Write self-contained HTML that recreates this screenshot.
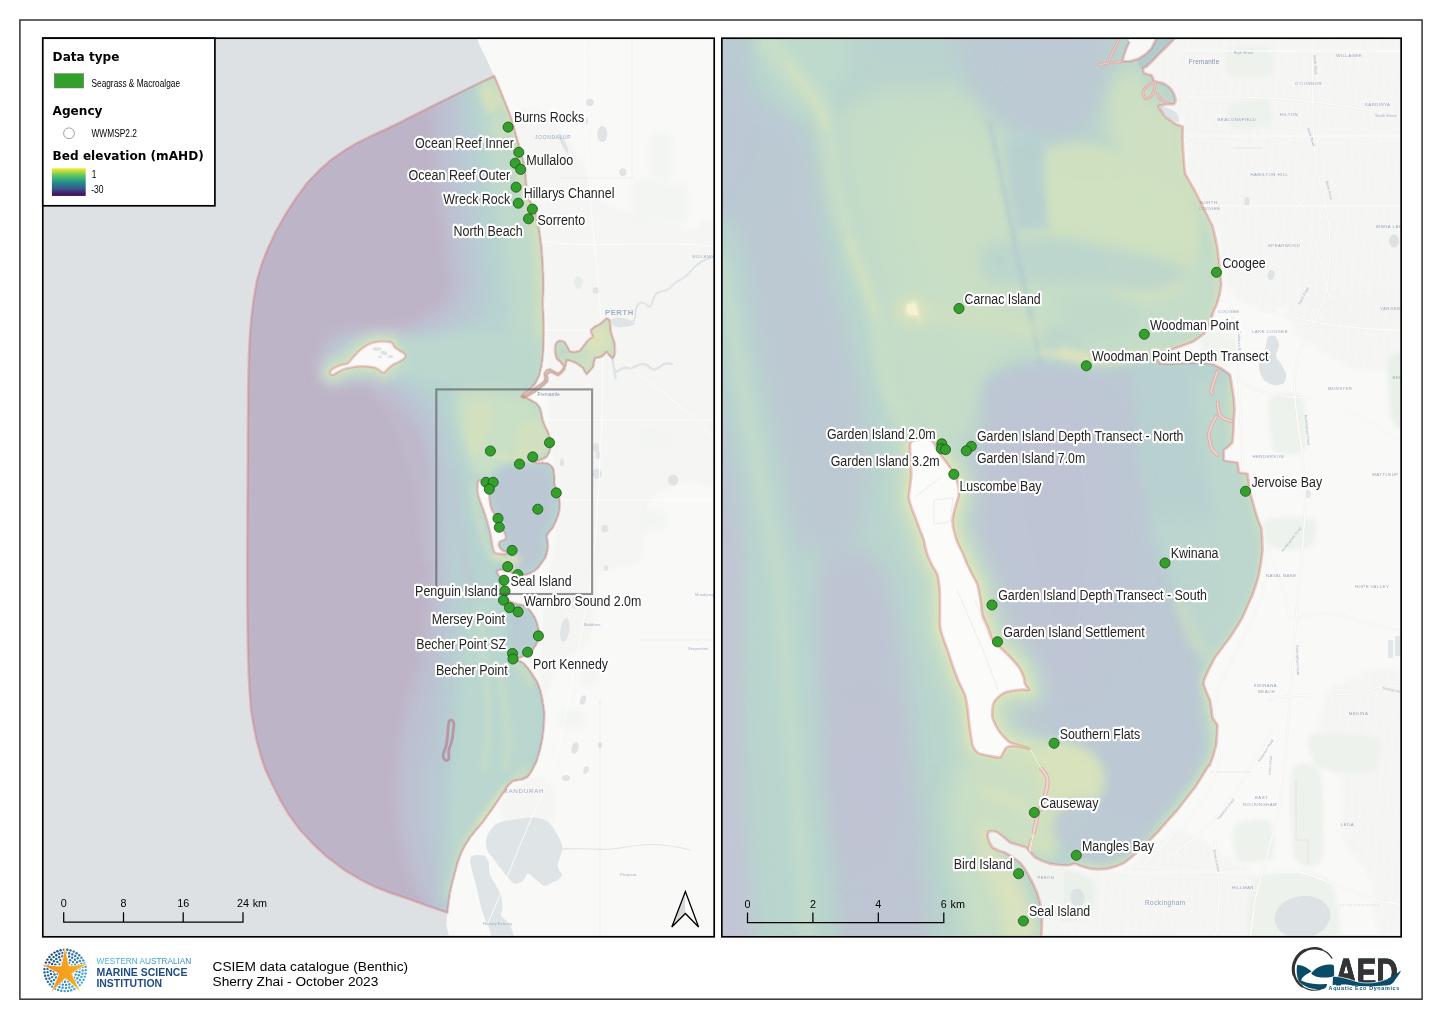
<!DOCTYPE html>
<html lang="en"><head><meta charset="utf-8"><title>CSIEM data catalogue (Benthic)</title>
<style>
html,body{margin:0;padding:0;background:#fff;overflow:hidden}
svg{display:block}
text{font-family:"Liberation Sans",sans-serif}
.lab{font-size:14px;fill:#242424;stroke:#fff;stroke-width:4.4px;stroke-linejoin:round;paint-order:stroke fill}
.dj{font-family:"DejaVu Sans",sans-serif;font-weight:bold}
.bm{fill:#8e9bb0;font-size:4.6px;letter-spacing:.35px}
.pt{fill:#33a02c;stroke:#1e4f1b;stroke-width:.8}
</style></head><body>
<svg width="1442" height="1020" viewBox="0 0 1442 1020" style="opacity:.999">
<defs>
<clipPath id="clipL"><rect x="43.6" y="39.1" width="669.8" height="896.7"/></clipPath>
<clipPath id="clipR"><rect x="722.7" y="39.1" width="677.6" height="896.7"/></clipPath>
<filter id="b2" filterUnits="userSpaceOnUse" x="0" y="0" width="1442" height="1020"><feGaussianBlur stdDeviation="2"/></filter>
<filter id="b3" filterUnits="userSpaceOnUse" x="0" y="0" width="1442" height="1020"><feGaussianBlur stdDeviation="3.5"/></filter>
<filter id="b6" filterUnits="userSpaceOnUse" x="0" y="0" width="1442" height="1020"><feGaussianBlur stdDeviation="6"/></filter>
<filter id="b10" filterUnits="userSpaceOnUse" x="0" y="0" width="1442" height="1020"><feGaussianBlur stdDeviation="10"/></filter>
<filter id="b16" filterUnits="userSpaceOnUse" x="0" y="0" width="1442" height="1020"><feGaussianBlur stdDeviation="16"/></filter>
<linearGradient id="vir" x1="0" y1="0" x2="0" y2="1">
<stop offset="0" stop-color="#fde725"/><stop offset=".25" stop-color="#5ec962"/><stop offset=".5" stop-color="#21918c"/><stop offset=".75" stop-color="#3b528b"/><stop offset="1" stop-color="#440154"/>
</linearGradient>
<linearGradient id="star" x1="0" y1="0" x2="1" y2="0"><stop offset="0" stop-color="#ee8a22"/><stop offset="1" stop-color="#fbb81a"/></linearGradient>
<linearGradient id="wa" x1="0" y1="0" x2="1" y2="0"><stop offset="0" stop-color="#41b6d6"/><stop offset="1" stop-color="#2f86c0"/></linearGradient>
</defs>
<rect x="0" y="0" width="1442" height="1020" fill="#fff"/>
<g clip-path="url(#clipL)">
<rect x="42" y="37" width="674" height="902" fill="#dde1e4"/>
<path d="M476.3,36 L480,46 L485,56 L489.5,66 L494.3,76 L498.5,86 L502.5,96 L507,107 L511.3,118.5 L514.5,130 L517.5,141 L521,152 L523.8,163.5 L525.5,175 L526.3,186 L528,194 L530,201 L533,208 L536.3,216 L538.5,226 L540,236 L541.5,248 L542.5,261 L543.2,275 L543.3,288.5 L542.8,305 L543.5,318 L543.8,330 L543.5,343 L543,355 L541.5,366 L539,376 L535,384 L529,390 L523,394.5 L521.5,396.5 L526,397.5 L531.6,400.6 L536,403 L539.8,407.5 L541.5,413 L542.6,419.8 L545,426 L548.1,432.2 L550,439 L550.8,445.9 L549.5,452 L546.7,456.9 L542,459.5 L537.1,461 L534.5,461.8 L537.5,463.2 L543,462.8 L548,463.4 L551.5,466 L553.6,469.2 L554.3,476 L554.3,483 L556,489 L557.7,494 L559.2,499 L559.8,503.6 L559.5,509 L558.4,514.6 L556,521 L553,527.5 L549.5,531.5 L546.7,535.7 L547.5,541 L548.1,546.7 L547,552.5 L545.3,557.7 L542,562.5 L538.5,567.3 L535,570.5 L531.6,572.8 L527.5,574.2 L523.4,574.8 L518,574.2 L512.4,572.8 L509,571.5 L505,570.5 L500,569.5 L496.6,571.4 L498,574.5 L500,576.9 L502,580 L502.8,585 L503.5,590 L505,595 L507,599 L511,602 L517,604 L522,605 L526.1,606.5 L530.5,611 L534.4,616.7 L537,623 L538.8,630.4 L539,637.5 L536.5,644 L532.5,650 L527,654.5 L520,657.5 L515,658.3 L511.5,658.8 L515,660.3 L520,661 L524,663.5 L527.5,667.5 L532.5,674.5 L537.5,682.5 L540.5,691 L542.5,700 L544.3,712 L544,725 L542.5,738 L540,750 L536.3,762 L531.5,771.5 L527.5,777 L522,779.5 L516,780.3 L512.5,781.3 L508.5,785 L505,790 L500,797.5 L495,805 L489,813.5 L482.5,822.5 L476,830 L470,837.5 L465.3,845 L461.3,852.5 L457.8,862 L455,872.5 L452.3,882.5 L450,892.5 L448.5,902.5 L447.5,912.5 L446.3,925 L448,932 L450,940 L720,940 L720,30 L476.3,30Z" fill="#f9f9f7"/>
<path d="M330,371.8 C330.3,370.9 331.8,369.7 333,368.8 C334.2,367.9 336,367.1 337.5,366.4 C339,365.7 340.3,365.3 342,364.8 C343.7,364.3 346,364.4 347.5,363.6 C349,362.8 349.5,361.4 351,359.8 C352.5,358.2 354.7,355.5 356.3,353.8 C357.9,352.1 359.1,351 360.5,349.8 C361.9,348.6 363.4,347.4 365,346.4 C366.6,345.4 368.3,344.5 370,343.8 C371.7,343.1 373,342.6 375,342.2 C377,341.8 379.5,341.4 382,341.4 C384.5,341.4 388.2,341.5 390,342 C391.8,342.5 392,343.3 392.8,344.2 C393.6,345.1 393.9,346.4 395,347.5 C396.1,348.6 397.9,349.6 399.5,350.7 C401.1,351.8 403.6,352.9 404.5,353.8 C405.4,354.7 405.3,355.4 405.2,356.2 C405.1,357 404.9,357.8 403.8,358.8 C402.7,359.8 400.4,361 398.5,362 C396.6,363 394.2,363.9 392.5,365 C390.8,366.1 389.4,367.5 388,368.8 C386.6,370.1 385.2,372.3 383.8,372.6 C382.4,372.9 381,371.2 379.5,370.4 C378,369.6 377,368.2 375,367.6 C373,367 370,366.8 367.5,366.6 C365,366.4 362.5,366.2 360,366.3 C357.5,366.4 355,366.8 352.5,367.2 C350,367.6 347.2,368.1 345,368.8 C342.8,369.5 340.9,370.6 339,371.6 C337.1,372.6 335.1,374.1 333.8,374.6 C332.5,375.1 331.6,374.9 331,374.4 C330.4,373.9 329.7,372.7 330,371.8Z" fill="#f9f9f7"/>
<path d="M478.7,480.9 C479.4,480.2 482.3,480.8 483.5,481.2 C484.7,481.6 488.3,483.5 489,484.4 C489.7,485.3 489.8,487.9 489.8,489 C489.8,490.1 489.3,492.7 489.3,494 C489.3,495.3 489.4,498.6 489.6,500 C489.8,501.4 490.3,505 490.6,506.3 C490.9,507.6 491.8,510 492.3,511 C492.8,512 493.9,513.4 494.5,514.6 C495.1,515.8 497,519.5 497.8,521 C498.6,522.5 500.7,526.2 501.4,527.5 C502.1,528.8 503.4,530.8 503.9,531.8 C504.4,532.8 505.3,534.9 505.5,535.7 C505.7,536.5 505.8,537.8 505.6,538.3 C505.4,538.8 504.4,539.6 503.8,539.9 C503.2,540.2 501.1,540.6 500.5,541 C499.9,541.4 499.2,542.4 499,543 C498.8,543.6 498.6,545.1 498.8,545.8 C499,546.5 500,548 500.5,548.6 C501,549.2 502.1,550.3 502.8,550.8 C503.5,551.3 506.7,552.5 506.9,552.9 C507.1,553.3 505.1,554.1 504.5,554.2 C503.9,554.3 502.2,553.8 501.4,553.7 C500.6,553.6 498.6,553.8 497.8,553.6 C497,553.4 495.1,553 494.5,552.2 C493.9,551.4 493.1,548.3 492.8,547 C492.5,545.7 492.1,542.7 491.8,541.2 C491.5,539.7 490.8,535.6 490.5,534 C490.2,532.4 489.4,529.1 489,527.5 C488.6,525.9 487.5,522.1 487,520.5 C486.5,518.9 485.3,514.9 484.9,513.7 C484.5,512.5 483.9,510.9 483.6,510 C483.3,509.1 482.6,507.5 482.2,506.3 C481.8,505.1 480.3,501.4 479.8,500 C479.3,498.6 478.3,495.5 478,494 C477.7,492.5 477.5,488.5 477.6,487 C477.7,485.5 478,481.6 478.7,480.9Z" fill="#f9f9f7"/>
<pattern id="gridL" width="5" height="4.4" patternUnits="userSpaceOnUse" patternTransform="rotate(-8)"><rect width="5" height="4.4" fill="#f2f2f0"/><path d="M0,0.4 H5 M0.4,0 V4.4" stroke="#fafaf9" stroke-width=".9"/></pattern>
<path d="M512,120 C513.3,107.3 531.6,106 540,110 C548.4,114 567,138 575,150 C583,162 591.3,191.3 600,200 C608.7,208.7 628,211 640,215 C652,219 679.9,227.7 690,230 C700.1,232.3 712.5,200 716,232 C719.5,264 719.5,436.9 716,470 C712.5,503.1 698.8,476 690,480 C681.2,484 656.7,489.3 650,500 C643.3,510.7 646.7,550 640,560 C633.3,570 606.7,564.3 600,575 C593.3,585.7 595.3,628.7 590,640 C584.7,651.3 566,652 560,660 C554,668 547.7,702.7 545,700 C542.3,697.3 538,666.7 540,640 C542,613.3 558.7,526.7 560,500 C561.3,473.3 552,466.7 550,440 C548,413.3 547.7,331.3 545,300 C542.3,268.7 534.4,229 530,205 C525.6,181 510.7,132.7 512,120Z" fill="url(#gridL)" filter="url(#b2)"/>
<path d="M525,782 C529.7,780.1 540.9,775.6 545,778 C549.1,780.4 555.6,793.1 556,800 C556.4,806.9 552.8,824.7 548,830 C543.2,835.3 526.4,842 520,840 C513.6,838 501.3,821.4 500,815 C498.7,808.6 506.7,796.4 510,792 C513.3,787.6 520.3,783.9 525,782Z" fill="url(#gridL)" filter="url(#b2)"/>
<rect x="651" y="133" width="20" height="45" rx="6" fill="#f2f5f1" filter="url(#b3)"/>
<rect x="633" y="180" width="35" height="40" rx="6" fill="#f2f5f1" filter="url(#b3)"/>
<rect x="660" y="184" width="26" height="40" rx="6" fill="#f2f5f1" filter="url(#b3)"/>
<rect x="641" y="430" width="17" height="15" rx="6" fill="#f2f5f1" filter="url(#b3)"/>
<rect x="661" y="437" width="10" height="10" rx="6" fill="#f2f5f1" filter="url(#b3)"/>
<rect x="643" y="510" width="23" height="20" rx="6" fill="#f2f5f1" filter="url(#b3)"/>
<rect x="560" y="709" width="23" height="19" rx="6" fill="#f2f5f1" filter="url(#b3)"/>
<rect x="580" y="671" width="18" height="14" rx="6" fill="#f2f5f1" filter="url(#b3)"/>
<rect x="548" y="598" width="12" height="40" rx="6" fill="#f2f5f1" filter="url(#b3)"/>
<ellipse cx="589.8" cy="102.3" rx="4" ry="3.6" fill="#dfe4e7"/>
<ellipse cx="602.3" cy="134" rx="5" ry="8" fill="#dfe4e7"/>
<ellipse cx="622.8" cy="172.3" rx="3.5" ry="4" fill="#dfe4e7"/>
<ellipse cx="563.5" cy="143.5" rx="2.2" ry="11" fill="#dfe4e7" transform="rotate(-25 563.5 143.5)"/>
<ellipse cx="585.5" cy="121" rx="2.5" ry="3.5" fill="#dfe4e7"/>
<ellipse cx="578.3" cy="282.5" rx="4.2" ry="6.5" fill="#e6ede8"/>
<ellipse cx="596" cy="290.5" rx="3.5" ry="3.2" fill="#dfe4e7"/>
<ellipse cx="673" cy="480" rx="5.2" ry="5.6" fill="#dfe4e7"/>
<ellipse cx="597.3" cy="473.8" rx="4.6" ry="5.2" fill="#dfe4e7"/>
<ellipse cx="604.8" cy="528.8" rx="3.6" ry="3.8" fill="#dfe4e7"/>
<ellipse cx="564.8" cy="630" rx="4.5" ry="12" fill="#dfe4e7" transform="rotate(8 564.8 630)"/>
<ellipse cx="596" cy="447.5" rx="3" ry="4.5" fill="#dfe4e7"/>
<ellipse cx="562" cy="462.5" rx="2" ry="4" fill="#dfe4e7"/>
<ellipse cx="598" cy="455" rx="2.5" ry="4" fill="#dfe4e7"/>
<ellipse cx="606" cy="568" rx="2" ry="3" fill="#dfe4e7"/>
<ellipse cx="575" cy="603" rx="3.5" ry="6" fill="#dfe4e7"/>
<ellipse cx="553" cy="586" rx="2.8" ry="2.8" fill="#dfe4e7"/>
<ellipse cx="583" cy="700" rx="3" ry="5" fill="#dfe4e7" transform="rotate(20 583 700)"/>
<ellipse cx="575" cy="748" rx="3.5" ry="6" fill="#dfe4e7" transform="rotate(15 575 748)"/>
<ellipse cx="586" cy="770" rx="2.5" ry="4" fill="#dfe4e7" transform="rotate(20 586 770)"/>
<ellipse cx="566" cy="778" rx="4" ry="3" fill="#dfe4e7"/>
<ellipse cx="600" cy="745" rx="2" ry="3" fill="#dfe4e7"/>
<path d="M610.5,320 L616,317.5 L624,318 L632,321 L635,324.5 L628,326.5 L620,327.5 L613,326 Z" fill="#dfe4e7"/>
<path d="M633,322 C637,318 634,311 637,306 S644,302 648,306 S652,298 656,294 S668,292 672,286 S684,280 690,272 S700,262 716,255" fill="none" stroke="#dfe4e7" stroke-width="2"/>
<path d="M612.5,358 C613,364 614.5,370 615.5,378 M615,372 C620,371 623,366 628,368 S636,364 643,364 S650,372 656,369 S664,362 672,364" fill="none" stroke="#dfe4e7" stroke-width="2.6" stroke-linecap="round"/>
<path d="M470,860 C470.1,861.8 471.8,869.1 472.5,872 C473.2,874.9 475.3,882.2 476,885 C476.7,887.8 477.9,893.4 478.5,896 C479.1,898.6 480.2,904.3 481,907 C481.8,909.7 483.9,916.3 485,919 C486.1,921.7 488.9,927.1 490,930 C491.1,932.9 490.9,942.4 494,944 C497.1,945.6 514.7,945 517,944 C519.3,943 514.5,937.2 513.7,935 C512.9,932.8 511,926.8 510,925 C509,923.2 506.1,920.7 505,919.5 C503.9,918.3 501.3,916.1 501,915 C500.7,913.9 502,911.2 502.2,910 C502.4,908.8 502.5,906.4 502.4,905 C502.3,903.6 501.8,899.5 501.5,898 C501.2,896.5 500.8,894.1 500,892.5 C499.2,890.9 496.2,886 495,884 C493.8,882 490.7,876.9 490,875 C489.3,873.1 489.2,869.5 489,868 C488.8,866.5 489,863.2 488.7,862 C488.4,860.8 487,858.8 486.5,858 C486,857.2 485.2,855.9 484,855.5 C482.8,855.1 477.5,854.9 476,855 C474.5,855.1 472.2,855.9 471.5,856.5 C470.8,857.1 469.9,858.2 470,860Z" fill="#dfe4e7"/>
<path d="M488.8,832.5 C489.8,831 493.3,826.3 495,825 C496.7,823.7 501,822.1 503,821.5 C505,820.9 510.3,820.4 512.5,820 C514.7,819.6 519.7,818.6 522,818.3 C524.3,818 530.3,817.5 532.5,817.5 C534.7,817.5 539.2,818.1 541,818.5 C542.8,818.9 546.1,820.2 547.5,821.3 C548.9,822.3 551.8,825.9 553,827.5 C554.2,829.1 556.6,833.4 557.5,835 C558.4,836.6 559.9,839.5 560.5,841 C561.1,842.5 562.5,845.8 562.5,847.5 C562.5,849.2 561.1,854 560.5,856 C559.9,858 557.7,863.4 557.5,865 C557.3,866.6 558.5,868.8 559,870 C559.5,871.2 562.1,873.8 562,875 C561.9,876.2 559.1,879.1 558,880 C556.9,880.9 553.6,881.9 552.4,882.5 C551.2,883.1 549,884.6 548,885 C547,885.4 544.8,886 543.6,885.6 C542.4,885.2 539.2,882.4 538,881.5 C536.8,880.6 534.5,878.3 533.6,877.5 C532.7,876.7 530.7,874.9 530,874.5 C529.3,874.1 527.9,873.5 527.4,873.7 C526.9,873.9 525.8,875.4 525.5,876 C525.2,876.6 525.5,877.9 524.9,878.7 C524.3,879.5 521.2,881.9 520,882.5 C518.8,883.1 515.9,883.9 514.9,883.7 C513.9,883.5 512.4,882.3 511.2,881.2 C510,880.1 506.3,875.6 505,874 C503.7,872.4 501,868.8 500,867.5 C499,866.2 497.3,864.1 496.5,863 C495.7,861.9 494,859.3 493,858 C492,856.7 488.8,853.5 488,852 C487.2,850.5 486.2,846.6 486,845 C485.8,843.4 486.2,839.5 486.5,838 C486.8,836.5 487.8,834 488.8,832.5Z" fill="#dfe4e7"/>
<path d="M556,850 C580,846 600,852 620,848 S660,842 690,850" fill="none" stroke="#dfe4e7" stroke-width="1.2"/>
<path d="M585,36 C582,100 588,180 596,260 S604,380 600,460 S596,560 580,640 S560,760 540,800 S500,900 480,940" fill="none" stroke="#fdfdfc" stroke-width=".9"/>
<path d="M540,240 C580,250 640,240 716,246 M600,340 C640,380 680,400 716,440 M545,420 H716 M560,500 H716 M545,330 H600" fill="none" stroke="#fdfdfc" stroke-width=".9"/>
<path d="M632,36 V178 H560 M640,640 H716 M600,700 V940" fill="none" stroke="#e8b9b9" stroke-width=".6" stroke-dasharray="1.2 1.6" opacity=".7"/>
<text x="605" y="315" font-size="7.6" letter-spacing="0.6" fill="#a4afc2" font-weight="bold">PERTH</text>
<text x="502.5" y="792.5" font-size="6.2" letter-spacing="0.75" fill="#a3adc0" >MANDURAH</text>
<text x="535" y="139" font-size="4.9" letter-spacing="0.7" fill="#9aabc4" >JOONDALUP</text>
<text x="537.5" y="395.5" font-size="4.6" letter-spacing="0.2" fill="#7f8ea6" >Fremantle</text>
<text x="584" y="626" font-size="4.4" letter-spacing="0.2" fill="#9aabc4" >Baldivis</text>
<text x="695" y="596" font-size="4" letter-spacing="0.1" fill="#a5b3c8" >Mundijong</text>
<text x="688" y="650" font-size="4" letter-spacing="0.1" fill="#a5b3c8" >Serpentine</text>
<text x="620" y="876" font-size="4.4" letter-spacing="0.2" fill="#9fb0c6" >Pinjarra</text>
<text x="692" y="258" font-size="4.2" letter-spacing="0.4" fill="#a5b3c8" >MIDLAND</text>
<text x="483" y="925" font-size="4.1" letter-spacing="0.1" fill="#9fb0c6" >Harvey Estuary</text>
<clipPath id="cpB"><path d="M494.3,76 L470,87.6 L445,99.8 L420,112.2 L395,124.8 L382,131 L370,136.5 L357,143 L345,150 L332,159 L320,169.5 L307,183 L296,198 L285,215 L276,231 L268,248 L262,263 L257,280 L253.5,300 L251.3,318 L249.8,336 L248.9,355 L248.3,380 L248,405 L247.8,430 L247.8,455 L247.6,480 L247.4,505 L247.3,534 L247.2,560 L247.2,585 L247.3,610 L247.6,635 L248,655 L248.7,675 L249.6,692 L251,710 L253.3,724 L256.4,740 L260.5,755 L265.5,770 L272.5,785 L280,800 L289,815 L300,830 L313,844 L327,857 L345,870.5 L360,879.5 L375,887 L392,893.5 L410,899.5 L428,906 L447.5,912.5 L448.5,902.5 L450,892.5 L452.3,882.5 L455,872.5 L457.8,862 L461.3,852.5 L465.3,845 L470,837.5 L476,830 L482.5,822.5 L489,813.5 L495,805 L500,797.5 L505,790 L508.5,785 L512.5,781.3 L516,780.3 L522,779.5 L527.5,777 L531.5,771.5 L536.3,762 L540,750 L542.5,738 L544,725 L544.3,712 L542.5,700 L540.5,691 L537.5,682.5 L532.5,674.5 L527.5,667.5 L524,663.5 L520,661 L515,660.3 L511.5,658.8 L515,658.3 L520,657.5 L527,654.5 L532.5,650 L536.5,644 L539,637.5 L538.8,630.4 L537,623 L534.4,616.7 L530.5,611 L526.1,606.5 L522,605 L517,604 L511,602 L507,599 L505,595 L503.5,590 L502.8,585 L502,580 L500,576.9 L498,574.5 L496.6,571.4 L500,569.5 L505,570.5 L509,571.5 L512.4,572.8 L518,574.2 L523.4,574.8 L527.5,574.2 L531.6,572.8 L535,570.5 L538.5,567.3 L542,562.5 L545.3,557.7 L547,552.5 L548.1,546.7 L547.5,541 L546.7,535.7 L549.5,531.5 L553,527.5 L556,521 L558.4,514.6 L559.5,509 L559.8,503.6 L559.2,499 L557.7,494 L556,489 L554.3,483 L554.3,476 L553.6,469.2 L551.5,466 L548,463.4 L543,462.8 L537.5,463.2 L534.5,461.8 L537.1,461 L542,459.5 L546.7,456.9 L549.5,452 L550.8,445.9 L550,439 L548.1,432.2 L545,426 L542.6,419.8 L541.5,413 L539.8,407.5 L536,403 L531.6,400.6 L526,397.5 L521.5,396.5 L523,394.5 L529,390 L535,384 L539,376 L541.5,366 L543,355 L543.5,343 L543.8,330 L543.5,318 L542.8,305 L543.3,288.5 L543.2,275 L542.5,261 L541.5,248 L540,236 L538.5,226 L536.3,216 L533,208 L530,201 L528,194 L526.3,186 L525.5,175 L523.8,163.5 L521,152 L517.5,141 L514.5,130 L511.3,118.5 L507,107 L502.5,96 L498.5,86Z"/><path d="M522,396.5 L528,393.5 L533,389.5 L536.7,386.7 L541,383.8 L544.5,381 L545,377.5 L544.2,373.8 L546.5,370.3 L550,369.2 L554,371.5 L558.3,373.3 L561.5,371 L564.2,366.7 L560.5,362 L556.5,358.3 L555,352 L555,346.7 L556.5,342.5 L559.2,340.8 L562.5,340.9 L565,342.5 L567.5,347 L570,351.7 L575,352 L580,350.8 L583.5,346 L586.7,341.7 L590,338.7 L593.3,336.7 L591.3,333 L590.8,330 L595,326.5 L600,324.2 L603.5,321 L606.7,318.3 L609,319.3 L610,321.7 L610.3,327 L610.8,331.7 L612.5,337 L614.2,341.7 L615,347.5 L615,353.3 L614,356.5 L612.5,358.3 L609.5,355.5 L606.7,351.7 L604,354.5 L601.7,356.7 L598,357.6 L595,358.3 L593.8,362.5 L593.3,366.7 L590,370.5 L586.7,374.2 L584.6,371.5 L583.3,368.3 L579,365 L575,362.5 L570.5,360.8 L566.7,360 L565.7,365 L564.2,370 L561.5,373 L558.3,375.5 L554.5,373.8 L550.8,371.9 L548.3,373.2 L546.9,375.5 L547.7,378.5 L547.5,381.3 L544,384.8 L540,388.3 L534,392.5 L528.3,395.8 L524,398Z"/></clipPath>
<g clip-path="url(#cpB)">
<rect x="240" y="70" width="390" height="850" fill="#beb4c7"/>
<path d="M436,60 C405.9,65.3 434,88 434,100 C434,112 435.1,136.7 436,150 C436.9,163.3 439.5,186.7 441,200 C442.5,213.3 445.5,238.7 447,250 C448.5,261.3 452.5,277.7 452,285 C451.5,292.3 447.3,300.3 443,305 C438.7,309.7 426.4,316.9 420,320 C413.6,323.1 401.7,326.7 395,328 C388.3,329.3 376.7,329.7 370,330 C363.3,330.3 350.9,328.3 345,330 C339.1,331.7 329.6,338.6 326,343 C322.4,347.4 318.3,357.8 318,363 C317.7,368.2 320.4,378.9 324,382 C327.6,385.1 339.5,385.5 345,386 C350.5,386.5 360.6,385.2 365,386 C369.4,386.8 374.4,389.9 378,392 C381.6,394.1 388,398.3 392,402 C396,405.7 404.3,414.9 408,420 C411.7,425.1 417.6,433.6 420,440 C422.4,446.4 424.8,458 426,468 C427.2,478 428.3,502.5 429,515 C429.7,527.5 430.6,551.6 431,562 C431.4,572.4 432.4,585.3 432,593 C431.6,600.7 429.1,612.4 428,620 C426.9,627.6 425.6,642 424,650 C422.4,658 417.9,673.3 416,680 C414.1,686.7 411.7,692.4 410,700 C408.3,707.6 404.6,726.7 403,737 C401.4,747.3 398.7,767.3 398,777 C397.3,786.7 397.3,801.6 398,810 C398.7,818.4 401.1,831.3 403,840 C404.9,848.7 409.1,866.7 412,875 C414.9,883.3 421.8,895.3 425,902 C428.2,908.7 404.7,921.9 436,925 C467.3,928.1 630.1,1040.3 660,925 C689.9,809.7 689.9,175.3 660,60 C630.1,-55.3 466.1,54.7 436,60Z" fill="#bdc1d2" opacity="1" filter="url(#b6)"/>
<path d="M456,60 C428.5,65.3 454,88 454,100 C454,112 455.2,136.7 456,150 C456.8,163.3 458.7,186.7 460,200 C461.3,213.3 464.7,238.7 466,250 C467.3,261.3 471.1,276.7 470,285 C468.9,293.3 463.3,306 458,312 C452.7,318 437.7,326.5 430,330 C422.3,333.5 407.7,336.5 400,338 C392.3,339.5 378.9,340.7 372,341 C365.1,341.3 353.1,338.8 348,340 C342.9,341.2 336.7,346.8 334,350 C331.3,353.2 328,360.7 328,364 C328,367.3 330.8,373.1 334,375 C337.2,376.9 346.7,377.7 352,378 C357.3,378.3 368.7,376.2 374,377 C379.3,377.8 387.5,381.5 392,384 C396.5,386.5 403.7,392 408,396 C412.3,400 420.5,408.7 424,414 C427.5,419.3 432,429.2 434,436 C436,442.8 438.1,454.5 439,465 C439.9,475.5 440.6,502.1 441,515 C441.4,527.9 441.6,551.6 442,562 C442.4,572.4 443.9,585.3 444,593 C444.1,600.7 443.5,612.4 443,620 C442.5,627.6 441.2,642 440,650 C438.8,658 435.3,673.3 434,680 C432.7,686.7 431.1,692.4 430,700 C428.9,707.6 427.1,726.7 426,737 C424.9,747.3 422.4,767.3 422,777 C421.6,786.7 422.2,801.6 423,810 C423.8,818.4 426.3,831.3 428,840 C429.7,848.7 433.9,866.7 436,875 C438.1,883.3 441.9,895.3 444,902 C446.1,908.7 423.2,921.9 452,925 C480.8,928.1 632.3,1040.3 660,925 C687.7,809.7 687.2,175.3 660,60 C632.8,-55.3 483.5,54.7 456,60Z" fill="#b9cad3" opacity="1" filter="url(#b6)"/>
<path d="M470,60 C444.4,65.3 467.7,88 468,100 C468.3,112 470.7,136.7 472,150 C473.3,163.3 476.4,186.7 478,200 C479.6,213.3 482.5,238 484,250 C485.5,262 489.8,280.7 489,290 C488.2,299.3 483.2,313.6 478,320 C472.8,326.4 458.8,334.5 450,338 C441.2,341.5 420.5,344.7 412,346 C403.5,347.3 392.7,347.7 386,348 C379.3,348.3 367.6,347.1 362,348 C356.4,348.9 346.9,352.9 344,355 C341.1,357.1 339.5,362.1 340,364 C340.5,365.9 343.7,368.5 348,369 C352.3,369.5 365.6,367.5 372,368 C378.4,368.5 390.9,370.9 396,373 C401.1,375.1 406.3,381.5 410,384 C413.7,386.5 420.3,388.8 424,392 C427.7,395.2 435.1,402.9 438,408 C440.9,413.1 444.4,423.1 446,430 C447.6,436.9 449.2,448.7 450,460 C450.8,471.3 451.6,501.4 452,515 C452.4,528.6 452.6,551.6 453,562 C453.4,572.4 454.6,585.3 455,593 C455.4,600.7 455.9,612.4 456,620 C456.1,627.6 456.3,642 456,650 C455.7,658 454.4,673.3 454,680 C453.6,686.7 453.4,692.4 453,700 C452.6,707.6 451.5,726.7 451,737 C450.5,747.3 449.3,767.3 449,777 C448.7,786.7 448.6,801.6 449,810 C449.4,818.4 451.2,831.3 452,840 C452.8,848.7 454.5,866.7 455,875 C455.5,883.3 455.6,895.3 456,902 C456.4,908.7 430.8,921.9 458,925 C485.2,928.1 633.1,1040.3 660,925 C686.9,809.7 685.3,175.3 660,60 C634.7,-55.3 495.6,54.7 470,60Z" fill="#b7d3d0" opacity="1" filter="url(#b6)"/>
<path d="M480,60 C456.3,65.3 480.9,88 482,100 C483.1,112 486.1,136.7 488,150 C489.9,163.3 493.9,186.7 496,200 C498.1,213.3 502.1,236.7 504,250 C505.9,263.3 509.5,288 510,300 C510.5,312 509.3,330.7 508,340 C506.7,349.3 501.9,362.7 500,370 C498.1,377.3 472.7,391.7 494,395 C515.3,398.3 637.9,439.7 660,395 C682.1,350.3 684,104.7 660,60 C636,15.3 503.7,54.7 480,60Z" fill="#bfdacb" opacity="1" filter="url(#b6)"/>
<path d="M497,82 C498.1,85.1 503,98.6 505,105 C507,111.4 510.3,123.3 512,130 C513.7,136.7 516.7,147.7 518,155 C519.3,162.3 520.4,177.4 522,185 C523.6,192.6 528.1,204.7 530,212 C531.9,219.3 534.8,232.3 536,240 C537.2,247.7 538.5,262 539,270 C539.5,278 539.9,290.7 540,300 C540.1,309.3 540.3,330.7 540,340 C539.7,349.3 538.3,366 538,370" fill="none" stroke="#d3dfbd" stroke-width="9" stroke-linecap="round" stroke-linejoin="round" opacity="0.9" filter="url(#b3)"/>
<ellipse cx="490" cy="98" rx="9" ry="16" fill="#d6e0ba" opacity="0.9" filter="url(#b3)" transform="rotate(-20 490 98)"/>
<ellipse cx="500" cy="130" rx="6" ry="12" fill="#cfdfc2" opacity="0.8" filter="url(#b3)" transform="rotate(-15 500 130)"/>
<path d="M330,371.8 C330.3,370.9 331.8,369.7 333,368.8 C334.2,367.9 336,367.1 337.5,366.4 C339,365.7 340.3,365.3 342,364.8 C343.7,364.3 346,364.4 347.5,363.6 C349,362.8 349.5,361.4 351,359.8 C352.5,358.2 354.7,355.5 356.3,353.8 C357.9,352.1 359.1,351 360.5,349.8 C361.9,348.6 363.4,347.4 365,346.4 C366.6,345.4 368.3,344.5 370,343.8 C371.7,343.1 373,342.6 375,342.2 C377,341.8 379.5,341.4 382,341.4 C384.5,341.4 388.2,341.5 390,342 C391.8,342.5 392,343.3 392.8,344.2 C393.6,345.1 393.9,346.4 395,347.5 C396.1,348.6 397.9,349.6 399.5,350.7 C401.1,351.8 403.6,352.9 404.5,353.8 C405.4,354.7 405.3,355.4 405.2,356.2 C405.1,357 404.9,357.8 403.8,358.8 C402.7,359.8 400.4,361 398.5,362 C396.6,363 394.2,363.9 392.5,365 C390.8,366.1 389.4,367.5 388,368.8 C386.6,370.1 385.2,372.3 383.8,372.6 C382.4,372.9 381,371.2 379.5,370.4 C378,369.6 377,368.2 375,367.6 C373,367 370,366.8 367.5,366.6 C365,366.4 362.5,366.2 360,366.3 C357.5,366.4 355,366.8 352.5,367.2 C350,367.6 347.2,368.1 345,368.8 C342.8,369.5 340.9,370.6 339,371.6 C337.1,372.6 335.1,374.1 333.8,374.6 C332.5,375.1 331.6,374.9 331,374.4 C330.4,373.9 329.7,372.7 330,371.8Z" fill="#cfe0c4" stroke="#cbdfc6" stroke-width="19" stroke-linejoin="round" filter="url(#b6)" opacity=".95"/>
<path d="M330,371.8 C330.3,370.9 331.8,369.7 333,368.8 C334.2,367.9 336,367.1 337.5,366.4 C339,365.7 340.3,365.3 342,364.8 C343.7,364.3 346,364.4 347.5,363.6 C349,362.8 349.5,361.4 351,359.8 C352.5,358.2 354.7,355.5 356.3,353.8 C357.9,352.1 359.1,351 360.5,349.8 C361.9,348.6 363.4,347.4 365,346.4 C366.6,345.4 368.3,344.5 370,343.8 C371.7,343.1 373,342.6 375,342.2 C377,341.8 379.5,341.4 382,341.4 C384.5,341.4 388.2,341.5 390,342 C391.8,342.5 392,343.3 392.8,344.2 C393.6,345.1 393.9,346.4 395,347.5 C396.1,348.6 397.9,349.6 399.5,350.7 C401.1,351.8 403.6,352.9 404.5,353.8 C405.4,354.7 405.3,355.4 405.2,356.2 C405.1,357 404.9,357.8 403.8,358.8 C402.7,359.8 400.4,361 398.5,362 C396.6,363 394.2,363.9 392.5,365 C390.8,366.1 389.4,367.5 388,368.8 C386.6,370.1 385.2,372.3 383.8,372.6 C382.4,372.9 381,371.2 379.5,370.4 C378,369.6 377,368.2 375,367.6 C373,367 370,366.8 367.5,366.6 C365,366.4 362.5,366.2 360,366.3 C357.5,366.4 355,366.8 352.5,367.2 C350,367.6 347.2,368.1 345,368.8 C342.8,369.5 340.9,370.6 339,371.6 C337.1,372.6 335.1,374.1 333.8,374.6 C332.5,375.1 331.6,374.9 331,374.4 C330.4,373.9 329.7,372.7 330,371.8Z" fill="#e1e4bf" stroke="#dde3bf" stroke-width="4.5" stroke-linejoin="round" filter="url(#b2)" opacity=".75"/>
<path d="M375,384 C377.3,387.5 387.3,401.2 392,410 C396.7,418.8 406,438 410,450 C414,462 419.6,485.3 422,500 C424.4,514.7 427.2,552 428,560" fill="none" stroke="#c3c2d4" stroke-width="6" stroke-linecap="round" stroke-linejoin="round" opacity="0.7" filter="url(#b6)"/>
<path d="M405,340 C410.1,335.6 430,336.3 440,335 C450,333.7 469.3,330 480,330 C490.7,330 511.3,333 520,335 C528.7,337 541.7,337 545,345 C548.3,353 548.3,388.7 545,395 C541.7,401.3 527.3,392.9 520,392 C512.7,391.1 499.3,389.1 490,388 C480.7,386.9 459.3,385.3 450,384 C440.7,382.7 426.4,380.1 420,378 C413.6,375.9 404,373.1 402,368 C400,362.9 399.9,344.4 405,340Z" fill="#bcd8ce" opacity="0.9" filter="url(#b6)"/>
<path d="M458,392 C461.2,388.4 473.7,388 480,388 C486.3,388 498.6,390.7 505,392 C511.4,393.3 523.3,395.6 528,398 C532.7,400.4 537.6,405.7 540,410 C542.4,414.3 544.9,424.7 546,430 C547.1,435.3 549.5,446 548,450 C546.5,454 539.4,458.4 535,460 C530.6,461.6 519.7,460.9 515,462 C510.3,463.1 503.6,466.1 500,468 C496.4,469.9 490.9,474.7 488,476 C485.1,477.3 480.4,479.5 478,478 C475.6,476.5 472.1,470.1 470,465 C467.9,459.9 463.9,446.7 462,440 C460.1,433.3 456.5,421.4 456,415 C455.5,408.6 454.8,395.6 458,392Z" fill="#c9dfc6" opacity="1" filter="url(#b6)"/>
<path d="M468,405 C469.9,401 477.1,400.1 480,400 C482.9,399.9 488.4,401.3 490,404 C491.6,406.7 492.5,415.2 492,420 C491.5,424.8 487.9,435.2 486,440 C484.1,444.8 480.1,454.7 478,456 C475.9,457.3 471.6,453.5 470,450 C468.4,446.5 466.3,436 466,430 C465.7,424 466.1,409 468,405Z" fill="#d6e1bd" opacity="0.8" filter="url(#b3)"/>
<path d="M520,425 C523.2,422.3 536.3,418.7 540,420 C543.7,421.3 546.9,430.7 548,435 C549.1,439.3 550.4,448.9 548,452 C545.6,455.1 534.5,457.5 530,458 C525.5,458.5 515.9,458.4 514,456 C512.1,453.6 515.2,444.1 516,440 C516.8,435.9 516.8,427.7 520,425Z" fill="#d4e1be" opacity="0.85" filter="url(#b3)"/>
<path d="M534,461 C532.4,460.7 525.5,459.4 522,459 C518.5,458.6 511.5,458.4 508,458 C504.5,457.6 497.6,456.3 496,456" fill="none" stroke="#dee3bd" stroke-width="3.5" stroke-linecap="round" stroke-linejoin="round" opacity="0.9" filter="url(#b2)"/>
<path d="M500,470 C502.9,468.1 511,466.5 515,466 C519,465.5 526,465.7 530,466 C534,466.3 542.1,466.1 545,468 C547.9,469.9 550.8,475.7 552,480 C553.2,484.3 554.3,494.7 554,500 C553.7,505.3 551.5,515.2 550,520 C548.5,524.8 543.9,531.7 543,536 C542.1,540.3 543.9,548.3 543,552 C542.1,555.7 538.4,561.6 536,564 C533.6,566.4 527.9,569.5 525,570 C522.1,570.5 516.3,569.9 514,568 C511.7,566.1 508.8,559.7 508,556 C507.2,552.3 508.5,543.7 508,540 C507.5,536.3 505.5,531.5 504,528 C502.5,524.5 498.5,518 497,514 C495.5,510 493.5,502.5 493,498 C492.5,493.5 492.1,483.7 493,480 C493.9,476.3 497.1,471.9 500,470Z" fill="#bbc8d3" opacity="1" filter="url(#b3)"/>
<path d="M474,485 C474.3,487.7 474.9,499.3 476,505 C477.1,510.7 480.4,522.3 482,528 C483.6,533.7 486.4,543.7 488,548 C489.6,552.3 493.2,558.4 494,560" fill="none" stroke="#cbdfc6" stroke-width="7" stroke-linecap="round" stroke-linejoin="round" opacity="0.9" filter="url(#b3)"/>
<path d="M496,556 C497.3,556.5 504.1,558.4 506,560 C507.9,561.6 509.5,566.9 510,568" fill="none" stroke="#dbe3bd" stroke-width="6" stroke-linecap="round" stroke-linejoin="round" opacity="0.9" filter="url(#b2)"/>
<ellipse cx="513" cy="560" rx="7" ry="8" fill="#d8e2bd" opacity="0.9" filter="url(#b3)"/>
<path d="M452,470 C452.4,474 453.9,492 455,500 C456.1,508 458.7,522 460,530 C461.3,538 463.7,552 465,560 C466.3,568 468.8,582 470,590 C471.2,598 473.5,616 474,620" fill="none" stroke="#bcc6d3" stroke-width="9" stroke-linecap="round" stroke-linejoin="round" opacity="0.8" filter="url(#b3)"/>
<path d="M512,610 C514.1,608.3 521.3,610.4 524,612 C526.7,613.6 530.7,618.8 532,622 C533.3,625.2 534.5,632.8 534,636 C533.5,639.2 530.1,644.1 528,646 C525.9,647.9 520.4,650.8 518,650 C515.6,649.2 511.3,643.3 510,640 C508.7,636.7 507.7,629 508,625 C508.3,621 509.9,611.7 512,610Z" fill="#bacbd3" opacity="0.95" filter="url(#b3)"/>
<path d="M470,600 C473.5,592.8 486,596 490,596 C494,596 498,596.8 500,600 C502,603.2 504.3,613.3 505,620 C505.7,626.7 504.3,644.4 505,650 C505.7,655.6 506.9,659.1 510,662 C513.1,664.9 524.3,668.3 528,672 C531.7,675.7 536.3,683.6 538,690 C539.7,696.4 541,712 541,720 C541,728 539.7,743.1 538,750 C536.3,756.9 531.7,768.3 528,772 C524.3,775.7 513.7,775.3 510,778 C506.3,780.7 503.3,787.1 500,792 C496.7,796.9 489,809.5 485,815 C481,820.5 473.6,827.7 470,833 C466.4,838.3 460.4,848.7 458,855 C455.6,861.3 453.3,873.3 452,880 C450.7,886.7 449.6,902.3 448,905 C446.4,907.7 440.5,906 440,900 C439.5,894 442.9,870.7 444,860 C445.1,849.3 446.9,830.7 448,820 C449.1,809.3 450.7,790.7 452,780 C453.3,769.3 456.7,750.7 458,740 C459.3,729.3 461.2,712 462,700 C462.8,688 462.9,663.3 464,650 C465.1,636.7 466.5,607.2 470,600Z" fill="#bad7cf" opacity="0.95" filter="url(#b6)"/>
<path d="M480,610 C480.4,615.3 482.1,639.3 483,650 C483.9,660.7 486.3,679.3 487,690 C487.7,700.7 488.4,719.3 488,730 C487.6,740.7 484.5,764.7 484,770" fill="none" stroke="#c9dec6" stroke-width="5" stroke-linecap="round" stroke-linejoin="round" opacity="0.9" filter="url(#b3)"/>
<path d="M497,665 C497.9,669.7 502.5,690 504,700 C505.5,710 507.9,730.7 508,740 C508.1,749.3 505.4,766 505,770" fill="none" stroke="#cbdfc5" stroke-width="5" stroke-linecap="round" stroke-linejoin="round" opacity="0.85" filter="url(#b3)"/>
<path d="M513,660 C514.2,661.1 519.5,664.8 522,668 C524.5,671.2 530.7,681.9 532,684" fill="none" stroke="#d5e1be" stroke-width="5" stroke-linecap="round" stroke-linejoin="round" opacity="0.9" filter="url(#b3)"/>
<path d="M528,770 C526.1,771.3 517.7,776.7 514,780 C510.3,783.3 503.7,790.3 500,795 C496.3,799.7 489.7,810.1 486,815 C482.3,819.9 475.2,827.3 472,832 C468.8,836.7 464.1,844.7 462,850 C459.9,855.3 457.5,866 456,872 C454.5,878 451.7,891.9 451,895" fill="none" stroke="#d2e0bf" stroke-width="7" stroke-linecap="round" stroke-linejoin="round" opacity="0.9" filter="url(#b3)"/>
<path d="M505,788 C503.3,790.4 495.6,801.2 492,806 C488.4,810.8 479.9,821.6 478,824" fill="none" stroke="#dfe3bb" stroke-width="4" stroke-linecap="round" stroke-linejoin="round" opacity="0.8" filter="url(#b2)"/>
<path d="M428,640 C428.3,648 430,684 430,700 C430,716 428.3,752 428,760" fill="none" stroke="#bdbdd0" stroke-width="8" stroke-linecap="round" stroke-linejoin="round" opacity="0.6" filter="url(#b6)"/>
<path d="M522,396.5 L528,393.5 L533,389.5 L536.7,386.7 L541,383.8 L544.5,381 L545,377.5 L544.2,373.8 L546.5,370.3 L550,369.2 L554,371.5 L558.3,373.3 L561.5,371 L564.2,366.7 L560.5,362 L556.5,358.3 L555,352 L555,346.7 L556.5,342.5 L559.2,340.8 L562.5,340.9 L565,342.5 L567.5,347 L570,351.7 L575,352 L580,350.8 L583.5,346 L586.7,341.7 L590,338.7 L593.3,336.7 L591.3,333 L590.8,330 L595,326.5 L600,324.2 L603.5,321 L606.7,318.3 L609,319.3 L610,321.7 L610.3,327 L610.8,331.7 L612.5,337 L614.2,341.7 L615,347.5 L615,353.3 L614,356.5 L612.5,358.3 L609.5,355.5 L606.7,351.7 L604,354.5 L601.7,356.7 L598,357.6 L595,358.3 L593.8,362.5 L593.3,366.7 L590,370.5 L586.7,374.2 L584.6,371.5 L583.3,368.3 L579,365 L575,362.5 L570.5,360.8 L566.7,360 L565.7,365 L564.2,370 L561.5,373 L558.3,375.5 L554.5,373.8 L550.8,371.9 L548.3,373.2 L546.9,375.5 L547.7,378.5 L547.5,381.3 L544,384.8 L540,388.3 L534,392.5 L528.3,395.8 L524,398Z" fill="#cfe0c2" filter="url(#b2)"/>
<ellipse cx="598" cy="340" rx="11" ry="14" fill="#dbe2ba" opacity="0.9" filter="url(#b3)" transform="rotate(20 598 340)"/>
<ellipse cx="562" cy="352" rx="5" ry="7" fill="#b9d2d0" opacity="0.9" filter="url(#b3)"/>
<ellipse cx="578" cy="356" rx="8" ry="5" fill="#c6dcc8" opacity="0.9" filter="url(#b3)"/>
<path d="M330,371.8 C330.3,370.9 331.8,369.7 333,368.8 C334.2,367.9 336,367.1 337.5,366.4 C339,365.7 340.3,365.3 342,364.8 C343.7,364.3 346,364.4 347.5,363.6 C349,362.8 349.5,361.4 351,359.8 C352.5,358.2 354.7,355.5 356.3,353.8 C357.9,352.1 359.1,351 360.5,349.8 C361.9,348.6 363.4,347.4 365,346.4 C366.6,345.4 368.3,344.5 370,343.8 C371.7,343.1 373,342.6 375,342.2 C377,341.8 379.5,341.4 382,341.4 C384.5,341.4 388.2,341.5 390,342 C391.8,342.5 392,343.3 392.8,344.2 C393.6,345.1 393.9,346.4 395,347.5 C396.1,348.6 397.9,349.6 399.5,350.7 C401.1,351.8 403.6,352.9 404.5,353.8 C405.4,354.7 405.3,355.4 405.2,356.2 C405.1,357 404.9,357.8 403.8,358.8 C402.7,359.8 400.4,361 398.5,362 C396.6,363 394.2,363.9 392.5,365 C390.8,366.1 389.4,367.5 388,368.8 C386.6,370.1 385.2,372.3 383.8,372.6 C382.4,372.9 381,371.2 379.5,370.4 C378,369.6 377,368.2 375,367.6 C373,367 370,366.8 367.5,366.6 C365,366.4 362.5,366.2 360,366.3 C357.5,366.4 355,366.8 352.5,367.2 C350,367.6 347.2,368.1 345,368.8 C342.8,369.5 340.9,370.6 339,371.6 C337.1,372.6 335.1,374.1 333.8,374.6 C332.5,375.1 331.6,374.9 331,374.4 C330.4,373.9 329.7,372.7 330,371.8Z" fill="#f9f9f7"/>
<path d="M478.7,480.9 C479.4,480.2 482.3,480.8 483.5,481.2 C484.7,481.6 488.3,483.5 489,484.4 C489.7,485.3 489.8,487.9 489.8,489 C489.8,490.1 489.3,492.7 489.3,494 C489.3,495.3 489.4,498.6 489.6,500 C489.8,501.4 490.3,505 490.6,506.3 C490.9,507.6 491.8,510 492.3,511 C492.8,512 493.9,513.4 494.5,514.6 C495.1,515.8 497,519.5 497.8,521 C498.6,522.5 500.7,526.2 501.4,527.5 C502.1,528.8 503.4,530.8 503.9,531.8 C504.4,532.8 505.3,534.9 505.5,535.7 C505.7,536.5 505.8,537.8 505.6,538.3 C505.4,538.8 504.4,539.6 503.8,539.9 C503.2,540.2 501.1,540.6 500.5,541 C499.9,541.4 499.2,542.4 499,543 C498.8,543.6 498.6,545.1 498.8,545.8 C499,546.5 500,548 500.5,548.6 C501,549.2 502.1,550.3 502.8,550.8 C503.5,551.3 506.7,552.5 506.9,552.9 C507.1,553.3 505.1,554.1 504.5,554.2 C503.9,554.3 502.2,553.8 501.4,553.7 C500.6,553.6 498.6,553.8 497.8,553.6 C497,553.4 495.1,553 494.5,552.2 C493.9,551.4 493.1,548.3 492.8,547 C492.5,545.7 492.1,542.7 491.8,541.2 C491.5,539.7 490.8,535.6 490.5,534 C490.2,532.4 489.4,529.1 489,527.5 C488.6,525.9 487.5,522.1 487,520.5 C486.5,518.9 485.3,514.9 484.9,513.7 C484.5,512.5 483.9,510.9 483.6,510 C483.3,509.1 482.6,507.5 482.2,506.3 C481.8,505.1 480.3,501.4 479.8,500 C479.3,498.6 478.3,495.5 478,494 C477.7,492.5 477.5,488.5 477.6,487 C477.7,485.5 478,481.6 478.7,480.9Z" fill="#f9f9f7"/>
<g id="rottlakes" fill="#dde2e5"><ellipse cx="377" cy="349" rx="4.5" ry="1.8"/><ellipse cx="384" cy="353" rx="3.5" ry="2" transform="rotate(20 384 353)"/><ellipse cx="390.5" cy="356.5" rx="3" ry="1.6"/><ellipse cx="380" cy="357" rx="2.2" ry="1.2"/></g>
</g>
<path d="M494.3,76 L470,87.6 L445,99.8 L420,112.2 L395,124.8 L382,131 L370,136.5 L357,143 L345,150 L332,159 L320,169.5 L307,183 L296,198 L285,215 L276,231 L268,248 L262,263 L257,280 L253.5,300 L251.3,318 L249.8,336 L248.9,355 L248.3,380 L248,405 L247.8,430 L247.8,455 L247.6,480 L247.4,505 L247.3,534 L247.2,560 L247.2,585 L247.3,610 L247.6,635 L248,655 L248.7,675 L249.6,692 L251,710 L253.3,724 L256.4,740 L260.5,755 L265.5,770 L272.5,785 L280,800 L289,815 L300,830 L313,844 L327,857 L345,870.5 L360,879.5 L375,887 L392,893.5 L410,899.5 L428,906 L447.5,912.5 L448.5,902.5 L450,892.5 L452.3,882.5 L455,872.5 L457.8,862 L461.3,852.5 L465.3,845 L470,837.5 L476,830 L482.5,822.5 L489,813.5 L495,805 L500,797.5 L505,790 L508.5,785 L512.5,781.3 L516,780.3 L522,779.5 L527.5,777 L531.5,771.5 L536.3,762 L540,750 L542.5,738 L544,725 L544.3,712 L542.5,700 L540.5,691 L537.5,682.5 L532.5,674.5 L527.5,667.5 L524,663.5 L520,661 L515,660.3 L511.5,658.8 L515,658.3 L520,657.5 L527,654.5 L532.5,650 L536.5,644 L539,637.5 L538.8,630.4 L537,623 L534.4,616.7 L530.5,611 L526.1,606.5 L522,605 L517,604 L511,602 L507,599 L505,595 L503.5,590 L502.8,585 L502,580 L500,576.9 L498,574.5 L496.6,571.4 L500,569.5 L505,570.5 L509,571.5 L512.4,572.8 L518,574.2 L523.4,574.8 L527.5,574.2 L531.6,572.8 L535,570.5 L538.5,567.3 L542,562.5 L545.3,557.7 L547,552.5 L548.1,546.7 L547.5,541 L546.7,535.7 L549.5,531.5 L553,527.5 L556,521 L558.4,514.6 L559.5,509 L559.8,503.6 L559.2,499 L557.7,494 L556,489 L554.3,483 L554.3,476 L553.6,469.2 L551.5,466 L548,463.4 L543,462.8 L537.5,463.2 L534.5,461.8 L537.1,461 L542,459.5 L546.7,456.9 L549.5,452 L550.8,445.9 L550,439 L548.1,432.2 L545,426 L542.6,419.8 L541.5,413 L539.8,407.5 L536,403 L531.6,400.6 L526,397.5 L521.5,396.5 L523,394.5 L529,390 L535,384 L539,376 L541.5,366 L543,355 L543.5,343 L543.8,330 L543.5,318 L542.8,305 L543.3,288.5 L543.2,275 L542.5,261 L541.5,248 L540,236 L538.5,226 L536.3,216 L533,208 L530,201 L528,194 L526.3,186 L525.5,175 L523.8,163.5 L521,152 L517.5,141 L514.5,130 L511.3,118.5 L507,107 L502.5,96 L498.5,86Z" fill="none" stroke="#d75f62" stroke-opacity=".31" stroke-width="2.5" stroke-linejoin="round"/>
<path d="M522,396.5 L528,393.5 L533,389.5 L536.7,386.7 L541,383.8 L544.5,381 L545,377.5 L544.2,373.8 L546.5,370.3 L550,369.2 L554,371.5 L558.3,373.3 L561.5,371 L564.2,366.7 L560.5,362 L556.5,358.3 L555,352 L555,346.7 L556.5,342.5 L559.2,340.8 L562.5,340.9 L565,342.5 L567.5,347 L570,351.7 L575,352 L580,350.8 L583.5,346 L586.7,341.7 L590,338.7 L593.3,336.7 L591.3,333 L590.8,330 L595,326.5 L600,324.2 L603.5,321 L606.7,318.3 L609,319.3 L610,321.7 L610.3,327 L610.8,331.7 L612.5,337 L614.2,341.7 L615,347.5 L615,353.3 L614,356.5 L612.5,358.3 L609.5,355.5 L606.7,351.7 L604,354.5 L601.7,356.7 L598,357.6 L595,358.3 L593.8,362.5 L593.3,366.7 L590,370.5 L586.7,374.2 L584.6,371.5 L583.3,368.3 L579,365 L575,362.5 L570.5,360.8 L566.7,360 L565.7,365 L564.2,370 L561.5,373 L558.3,375.5 L554.5,373.8 L550.8,371.9 L548.3,373.2 L546.9,375.5 L547.7,378.5 L547.5,381.3 L544,384.8 L540,388.3 L534,392.5 L528.3,395.8 L524,398Z" fill="none" stroke="#d75f62" stroke-opacity=".31" stroke-width="2.5" stroke-linejoin="round"/>
<path d="M330,371.8 C330.3,370.9 331.8,369.7 333,368.8 C334.2,367.9 336,367.1 337.5,366.4 C339,365.7 340.3,365.3 342,364.8 C343.7,364.3 346,364.4 347.5,363.6 C349,362.8 349.5,361.4 351,359.8 C352.5,358.2 354.7,355.5 356.3,353.8 C357.9,352.1 359.1,351 360.5,349.8 C361.9,348.6 363.4,347.4 365,346.4 C366.6,345.4 368.3,344.5 370,343.8 C371.7,343.1 373,342.6 375,342.2 C377,341.8 379.5,341.4 382,341.4 C384.5,341.4 388.2,341.5 390,342 C391.8,342.5 392,343.3 392.8,344.2 C393.6,345.1 393.9,346.4 395,347.5 C396.1,348.6 397.9,349.6 399.5,350.7 C401.1,351.8 403.6,352.9 404.5,353.8 C405.4,354.7 405.3,355.4 405.2,356.2 C405.1,357 404.9,357.8 403.8,358.8 C402.7,359.8 400.4,361 398.5,362 C396.6,363 394.2,363.9 392.5,365 C390.8,366.1 389.4,367.5 388,368.8 C386.6,370.1 385.2,372.3 383.8,372.6 C382.4,372.9 381,371.2 379.5,370.4 C378,369.6 377,368.2 375,367.6 C373,367 370,366.8 367.5,366.6 C365,366.4 362.5,366.2 360,366.3 C357.5,366.4 355,366.8 352.5,367.2 C350,367.6 347.2,368.1 345,368.8 C342.8,369.5 340.9,370.6 339,371.6 C337.1,372.6 335.1,374.1 333.8,374.6 C332.5,375.1 331.6,374.9 331,374.4 C330.4,373.9 329.7,372.7 330,371.8Z" fill="none" stroke="#d75f62" stroke-opacity=".31" stroke-width="2.5" stroke-linejoin="round"/>
<path d="M478.7,480.9 C479.4,480.2 482.3,480.8 483.5,481.2 C484.7,481.6 488.3,483.5 489,484.4 C489.7,485.3 489.8,487.9 489.8,489 C489.8,490.1 489.3,492.7 489.3,494 C489.3,495.3 489.4,498.6 489.6,500 C489.8,501.4 490.3,505 490.6,506.3 C490.9,507.6 491.8,510 492.3,511 C492.8,512 493.9,513.4 494.5,514.6 C495.1,515.8 497,519.5 497.8,521 C498.6,522.5 500.7,526.2 501.4,527.5 C502.1,528.8 503.4,530.8 503.9,531.8 C504.4,532.8 505.3,534.9 505.5,535.7 C505.7,536.5 505.8,537.8 505.6,538.3 C505.4,538.8 504.4,539.6 503.8,539.9 C503.2,540.2 501.1,540.6 500.5,541 C499.9,541.4 499.2,542.4 499,543 C498.8,543.6 498.6,545.1 498.8,545.8 C499,546.5 500,548 500.5,548.6 C501,549.2 502.1,550.3 502.8,550.8 C503.5,551.3 506.7,552.5 506.9,552.9 C507.1,553.3 505.1,554.1 504.5,554.2 C503.9,554.3 502.2,553.8 501.4,553.7 C500.6,553.6 498.6,553.8 497.8,553.6 C497,553.4 495.1,553 494.5,552.2 C493.9,551.4 493.1,548.3 492.8,547 C492.5,545.7 492.1,542.7 491.8,541.2 C491.5,539.7 490.8,535.6 490.5,534 C490.2,532.4 489.4,529.1 489,527.5 C488.6,525.9 487.5,522.1 487,520.5 C486.5,518.9 485.3,514.9 484.9,513.7 C484.5,512.5 483.9,510.9 483.6,510 C483.3,509.1 482.6,507.5 482.2,506.3 C481.8,505.1 480.3,501.4 479.8,500 C479.3,498.6 478.3,495.5 478,494 C477.7,492.5 477.5,488.5 477.6,487 C477.7,485.5 478,481.6 478.7,480.9Z" fill="none" stroke="#d75f62" stroke-opacity=".31" stroke-width="2.5" stroke-linejoin="round"/>
<path d="M451.3,720 C452,720.2 453.1,721.1 453.5,722 C453.9,722.9 453.9,724 453.8,725.5 C453.8,727 453.4,729 453.2,731 C453,733 452.9,735.3 452.5,737.5 C452.1,739.7 451.4,741.9 450.8,744 C450.2,746.1 449.2,748.2 448.9,750 C448.6,751.8 448.8,753.1 448.8,754.5 C448.8,755.9 449.1,757.6 448.8,758.6 C448.5,759.6 447.7,760.3 447,760.5 C446.3,760.7 445.4,760.4 444.8,759.8 C444.2,759.2 443.5,758 443.3,757 C443.1,756 443.1,754.8 443.4,753.5 C443.7,752.2 444.5,750.4 445,749 C445.5,747.6 445.9,746.8 446.3,745 C446.7,743.2 447,740.5 447.3,738 C447.6,735.5 447.8,732.3 448,730 C448.2,727.7 448.4,725.5 448.6,724 C448.8,722.5 448.9,721.7 449.3,721 C449.8,720.3 450.6,719.8 451.3,720Z" fill="none" stroke="#b58d9c" stroke-opacity=".85" stroke-width="2.8"/>
<circle class="pt" cx="508.1" cy="127.1" r="5.05"/><circle class="pt" cx="518.8" cy="152.3" r="5.05"/><circle class="pt" cx="515.2" cy="163.2" r="5.05"/><circle class="pt" cx="520.7" cy="169.4" r="5.05"/><circle class="pt" cx="516.1" cy="187.2" r="5.05"/><circle class="pt" cx="518.3" cy="203.2" r="5.05"/><circle class="pt" cx="532.4" cy="209.1" r="5.05"/><circle class="pt" cx="528.5" cy="218.8" r="5.05"/><circle class="pt" cx="490.4" cy="451" r="5.05"/><circle class="pt" cx="549.5" cy="442.7" r="5.05"/><circle class="pt" cx="532.7" cy="456.9" r="5.05"/><circle class="pt" cx="519.5" cy="464" r="5.05"/><circle class="pt" cx="486" cy="482.3" r="5.05"/><circle class="pt" cx="493.2" cy="482.3" r="5.05"/><circle class="pt" cx="489.3" cy="489.2" r="5.05"/><circle class="pt" cx="556.3" cy="492.9" r="5.05"/><circle class="pt" cx="537.8" cy="509.2" r="5.05"/><circle class="pt" cx="498" cy="518.4" r="5.05"/><circle class="pt" cx="499.3" cy="527.3" r="5.05"/><circle class="pt" cx="512.1" cy="550.4" r="5.05"/><circle class="pt" cx="507.7" cy="566.6" r="5.05"/><circle class="pt" cx="517.8" cy="574.6" r="5.05"/><circle class="pt" cx="504" cy="580.3" r="5.05"/><circle class="pt" cx="505" cy="591" r="5.05"/><circle class="pt" cx="503.5" cy="600.2" r="5.05"/><circle class="pt" cx="509.5" cy="607.6" r="5.05"/><circle class="pt" cx="518.1" cy="611.9" r="5.05"/><circle class="pt" cx="538.4" cy="635.9" r="5.05"/><circle class="pt" cx="527.6" cy="652.2" r="5.05"/><circle class="pt" cx="512.5" cy="653.5" r="5.05"/><circle class="pt" cx="513" cy="659" r="5.05"/>
<rect x="436.3" y="389.4" width="155.8" height="204.6" fill="none" stroke="#505050" stroke-opacity=".6" stroke-width="2.1"/>
<path d="M458.5,593.6 h8" stroke="#fff" stroke-width="3.4"/>
<text class="lab" x="513.9" y="122" textLength="70.2" lengthAdjust="spacingAndGlyphs">Burns Rocks</text>
<text class="lab" x="415" y="148" textLength="98.8" lengthAdjust="spacingAndGlyphs">Ocean Reef Inner</text>
<text class="lab" x="526.2" y="164.8" textLength="47" lengthAdjust="spacingAndGlyphs">Mullaloo</text>
<text class="lab" x="408.5" y="179.8" textLength="101.7" lengthAdjust="spacingAndGlyphs">Ocean Reef Outer</text>
<text class="lab" x="523.8" y="198.1" textLength="90.6" lengthAdjust="spacingAndGlyphs">Hillarys Channel</text>
<text class="lab" x="443.3" y="203.8" textLength="66.9" lengthAdjust="spacingAndGlyphs">Wreck Rock</text>
<text class="lab" x="537.4" y="225.4" textLength="47.8" lengthAdjust="spacingAndGlyphs">Sorrento</text>
<text class="lab" x="453.6" y="235.8" textLength="69.1" lengthAdjust="spacingAndGlyphs">North Beach</text>
<text class="lab" x="510.5" y="586.4" textLength="61.1" lengthAdjust="spacingAndGlyphs">Seal Island</text>
<text class="lab" x="415.1" y="595.9" textLength="82.5" lengthAdjust="spacingAndGlyphs">Penguin Island</text>
<text class="lab" x="524" y="605.8" textLength="117.3" lengthAdjust="spacingAndGlyphs">Warnbro Sound 2.0m</text>
<text class="lab" x="431.8" y="624" textLength="73.1" lengthAdjust="spacingAndGlyphs">Mersey Point</text>
<text class="lab" x="416.2" y="648.8" textLength="89.9" lengthAdjust="spacingAndGlyphs">Becher Point SZ</text>
<text class="lab" x="533" y="668.8" textLength="75" lengthAdjust="spacingAndGlyphs">Port Kennedy</text>
<text class="lab" x="436" y="675.2" textLength="71.8" lengthAdjust="spacingAndGlyphs">Becher Point</text>
<path d="M63.7,912.2 V922.2 H243 V912.2 M123.5,912.2 V922.2 M183.2,912.2 V922.2" fill="none" stroke="#000" stroke-width="1.25"/><text x="63.7" y="907.4" font-size="10.8" text-anchor="middle" fill="#000">0</text><text x="123.5" y="907.4" font-size="10.8" text-anchor="middle" fill="#000">8</text><text x="183.2" y="907.4" font-size="10.8" text-anchor="middle" fill="#000">16</text><text x="237" y="907.4" font-size="10.8" fill="#000" xml:space="preserve" word-spacing=".7">24 km</text>
<path d="M685.4,891.5 L671.8,927 L685.4,913.5 Z" fill="#d9d9d9"/><path d="M685.4,891.5 L698.6,927 L685.4,913.5 Z" fill="#fff"/><path d="M685.4,891.5 L671.8,927 L685.4,913.5 L698.6,927 Z" fill="none" stroke="#000" stroke-width="1.3" stroke-linejoin="miter"/>
</g>
<g clip-path="url(#clipR)">
<rect x="721" y="37" width="682" height="902" fill="#b9d5cd"/>
<path d="M700,430 C703.5,362 720.4,440.7 726,450 C731.6,459.3 739.3,485.3 742,500 C744.7,514.7 746,541.3 746,560 C746,578.7 742.5,616 742,640 C741.5,664 741.5,713.3 742,740 C742.5,766.7 744.7,810.7 746,840 C747.3,869.3 758.1,944 752,960 C745.9,976 706.9,1030.7 700,960 C693.1,889.3 696.5,498 700,430Z" fill="#c2c5d5" opacity="1" filter="url(#b10)"/>
<path d="M700,20 C717.3,-8 810,13.3 830,20 C850,26.7 851.3,55.3 850,70 C848.7,84.7 829.3,114 820,130 C810.7,146 790.7,176.7 780,190 C769.3,203.3 750.7,224.7 740,230 C729.3,235.3 705.3,258 700,230 C694.7,202 682.7,48 700,20Z" fill="#b6d3cf" opacity="1" filter="url(#b16)"/>
<path d="M758,20 C769.3,12 837.7,13.3 850,20 C862.3,26.7 854.7,57.3 850,70 C845.3,82.7 823,108.3 815,115 C807,121.7 796.7,124.7 790,120 C783.3,115.3 769.3,93.3 765,80 C760.7,66.7 746.7,28 758,20Z" fill="#bfdbcd" opacity="0.9" filter="url(#b10)"/>
<path d="M700,20 C705.9,-4 737.6,10.7 744,20 C750.4,29.3 748.3,71.3 748,90 C747.7,108.7 748.4,145.3 742,160 C735.6,174.7 705.6,218.7 700,200 C694.4,181.3 694.1,44 700,20Z" fill="#bbcad3" opacity="0.9" filter="url(#b6)"/>
<path d="M768,40 C771.6,44.7 787.8,65.7 795,75 C802.2,84.3 817.3,100 822,110 C826.7,120 828.4,140 830,150 C831.6,160 832.3,176.3 834,185 C835.7,193.7 840.6,207 843,215 C845.4,223 849.1,236.3 852,245 C854.9,253.7 861.5,270.7 865,280 C868.5,289.3 875.5,305 878,315 C880.5,325 882.1,345 884,355 C885.9,365 888.8,380.3 892,390 C895.2,399.7 905.9,422.9 908,428" fill="none" stroke="#c8dec7" stroke-width="22" stroke-linecap="round" stroke-linejoin="round" opacity="0.95" filter="url(#b6)"/>
<path d="M790,68 C792.9,72 807.2,90.4 812,98 C816.8,105.6 824.1,121.4 826,125" fill="none" stroke="#d4e1bf" stroke-width="7" stroke-linecap="round" stroke-linejoin="round" opacity="0.85" filter="url(#b3)"/>
<path d="M850,240 C852.1,245.6 862.1,271.6 866,282 C869.9,292.4 877.3,313.2 879,318" fill="none" stroke="#d6e2be" stroke-width="7" stroke-linecap="round" stroke-linejoin="round" opacity="0.85" filter="url(#b3)"/>
<path d="M915,110 L905,135" fill="none" stroke="#dde3bc" stroke-width="5" stroke-linecap="round" stroke-linejoin="round" opacity="0.8" filter="url(#b3)"/>
<path d="M968,100 L978,104" fill="none" stroke="#dde3bc" stroke-width="4" stroke-linecap="round" stroke-linejoin="round" opacity="0.8" filter="url(#b3)"/>
<path d="M845,110 C853,102.9 884.7,84.9 900,82 C915.3,79.1 946.7,82.3 960,88 C973.3,93.7 989.3,115.4 1000,125 C1010.7,134.6 1028,153.7 1040,160 C1052,166.3 1076.7,171.3 1090,172 C1103.3,172.7 1127.3,169.3 1140,165 C1152.7,160.7 1177.7,135.3 1185,140 C1192.3,144.7 1191,185.3 1195,200 C1199,214.7 1211.9,236.7 1215,250 C1218.1,263.3 1219.3,288.7 1218,300 C1216.7,311.3 1212.7,328.1 1205,335 C1197.3,341.9 1172.7,348.4 1160,352 C1147.3,355.6 1123.3,362 1110,362 C1096.7,362 1073.3,352.3 1060,352 C1046.7,351.7 1020,355.6 1010,360 C1000,364.4 989.7,375.7 985,385 C980.3,394.3 979,422 975,430 C971,438 961.7,444.7 955,445 C948.3,445.3 931.7,436.7 925,432 C918.3,427.3 909.7,419.6 905,410 C900.3,400.4 893.3,374.7 890,360 C886.7,345.3 884,316 880,300 C876,284 864.5,256 860,240 C855.5,224 848.7,194 846,180 C843.3,166 840.1,144.3 840,135 C839.9,125.7 837,117.1 845,110Z" fill="#c5ddc8" opacity="1" filter="url(#b10)"/>
<path d="M900,150 C907.3,136 945.3,122.3 960,125 C974.7,127.7 999.3,156 1010,170 C1020.7,184 1036,212.7 1040,230 C1044,247.3 1045.3,285.3 1040,300 C1034.7,314.7 1010.7,336 1000,340 C989.3,344 969.3,336.7 960,330 C950.7,323.3 937.3,303.3 930,290 C922.7,276.7 909,248.7 905,230 C901,211.3 892.7,164 900,150Z" fill="#cde0c2" opacity="0.5" filter="url(#b16)"/>
<path d="M1046,150 C1050.3,138 1072.1,141.7 1082,142 C1091.9,142.3 1110.9,148.8 1120,152 C1129.1,155.2 1141.3,162.8 1150,166 C1158.7,169.2 1178.3,167.5 1185,176 C1191.7,184.5 1200.7,214.8 1200,230 C1199.3,245.2 1190.7,280.7 1180,290 C1169.3,299.3 1132.5,306.1 1120,300 C1107.5,293.9 1095.3,253.1 1086,244 C1076.7,234.9 1055.3,244.5 1050,232 C1044.7,219.5 1041.7,162 1046,150Z" fill="#d0e1c0" opacity="0.95" filter="url(#b6)"/>
<path d="M985,246 C991.7,240.4 1027.1,240.5 1040,240 C1052.9,239.5 1067.3,239.9 1082,242 C1096.7,244.1 1135.6,252 1150,256 C1164.4,260 1190,267.5 1190,272 C1190,276.5 1164.4,288.4 1150,290 C1135.6,291.6 1103.3,285.1 1082,284 C1060.7,282.9 1002.9,287.1 990,282 C977.1,276.9 978.3,251.6 985,246Z" fill="#bad4cf" opacity="0.8" filter="url(#b6)"/>
<path d="M1120,120 C1126,113.6 1161.7,109.3 1170,112 C1178.3,114.7 1180.1,131.6 1182,140 C1183.9,148.4 1188.3,169 1184,175 C1179.7,181 1157.9,187 1150,185 C1142.1,183 1129,168.7 1125,160 C1121,151.3 1114,126.4 1120,120Z" fill="#d3e1be" opacity="0.9" filter="url(#b10)"/>
<path d="M1108,78 C1112.8,72 1135.6,66.5 1142,70 C1148.4,73.5 1150.8,96.5 1156,104 C1161.2,111.5 1177.3,115.9 1181,126 C1184.7,136.1 1187.9,171.7 1184,180 C1180.1,188.3 1160.3,190.9 1152,188 C1143.7,185.1 1128.1,167.7 1122,158 C1115.9,148.3 1107.9,125.7 1106,115 C1104.1,104.3 1103.2,84 1108,78Z" fill="#cfe0c3" opacity="0.95" filter="url(#b10)"/>
<path d="M950,20 C968.7,14.7 1073.7,16 1095,20 C1116.3,24 1109.1,40 1110,50 C1110.9,60 1105.5,84.6 1102,95 C1098.5,105.4 1091.5,122 1084,128 C1076.5,134 1055.9,140 1046,140 C1036.1,140 1018.8,133.3 1010,128 C1001.2,122.7 987.3,109.1 980,100 C972.7,90.9 959,70.7 955,60 C951,49.3 931.3,25.3 950,20Z" fill="#bccad3" opacity="1" filter="url(#b10)"/>
<ellipse cx="1055" cy="50" rx="30" ry="22" fill="#bfc8d4" opacity="0.6" filter="url(#b16)"/>
<path d="M850,20 C862,14.7 936,14.7 950,20 C964,25.3 957.7,51.3 955,60 C952.3,68.7 938.7,81.7 930,85 C921.3,88.3 899.3,88.3 890,85 C880.7,81.7 865.3,68.7 860,60 C854.7,51.3 838,25.3 850,20Z" fill="#bbd3cf" opacity="0.8" filter="url(#b16)"/>
<path d="M990,122 C991.3,128.4 997.1,155.6 1000,170 C1002.9,184.4 1008.5,213.3 1012,230 C1015.5,246.7 1022.8,280.3 1026,295 C1029.2,309.7 1033.9,330.5 1036,340 C1038.1,349.5 1041.2,362.5 1042,366" fill="none" stroke="#b4cdce" stroke-width="4.5" stroke-linecap="round" stroke-linejoin="round" opacity="0.95" filter="url(#b2)"/>
<path d="M1003,142 L1040,136 L1048,226 L1014,232 Z" fill="#b7d0d0" filter="url(#b3)" opacity=".9"/>
<path d="M1040,330 L1078,322 L1084,352 L1046,358 Z" fill="#bed6cc" filter="url(#b3)" opacity=".8"/>
<path d="M1060,300 C1064.7,294.3 1099.3,293.7 1110,295 C1120.7,296.3 1138,304.7 1140,310 C1142,315.3 1133.7,331.3 1125,335 C1116.3,338.7 1083.7,342.7 1075,338 C1066.3,333.3 1055.3,305.7 1060,300Z" fill="#bfd9ca" opacity="0.8" filter="url(#b6)"/>
<path d="M700,105 C707.3,51.4 742.3,95.7 755,98 C767.7,100.3 787.4,113.7 795,122 C802.6,130.3 808.7,146.9 812,160 C815.3,173.1 817.3,204 820,220 C822.7,236 828.5,265.3 832,280 C835.5,294.7 842.3,315.3 846,330 C849.7,344.7 857.1,374 860,390 C862.9,406 867.7,432.7 868,450 C868.3,467.3 865.7,505.3 862,520 C858.3,534.7 846.3,556.7 840,560 C833.7,563.3 821,545 815,545 C809,545 801,558.7 795,560 C789,561.3 776.7,560.3 770,555 C763.3,549.7 754.3,527.3 745,520 C735.7,512.7 706,555.3 700,500 C694,444.7 692.7,158.6 700,105Z" fill="#bdc7d4" opacity="0.85" filter="url(#b10)"/>
<ellipse cx="913" cy="311" rx="20" ry="16" fill="#d5e1be" opacity="0.95" filter="url(#b6)"/>
<path d="M930,312 C934,312.5 950.7,314.7 960,316 C969.3,317.3 990,320.1 1000,322 C1010,323.9 1030.3,328.9 1035,330" fill="none" stroke="#d0e0c0" stroke-width="16" stroke-linecap="round" stroke-linejoin="round" opacity="0.8" filter="url(#b6)"/>
<path d="M1205,340 C1201,341.6 1183.7,349.9 1175,352 C1166.3,354.1 1150,354.9 1140,356 C1130,357.1 1110.4,360.5 1100,360 C1089.6,359.5 1067.1,353.1 1062,352" fill="none" stroke="#dbe3bd" stroke-width="11" stroke-linecap="round" stroke-linejoin="round" opacity="0.95" filter="url(#b3)"/>
<path d="M1090,362 C1086,361.2 1066.7,357.3 1060,356 C1053.3,354.7 1042.7,352.5 1040,352" fill="none" stroke="#e2e5bd" stroke-width="5" stroke-linecap="round" stroke-linejoin="round" opacity="0.9" filter="url(#b3)"/>
<path d="M1128,366 C1131.5,360.7 1150.4,360.3 1160,360 C1169.6,359.7 1191.5,361.3 1200,364 C1208.5,366.7 1220.3,369.9 1224,380 C1227.7,390.1 1225.6,425.3 1228,440 C1230.4,454.7 1238.8,476.7 1242,490 C1245.2,503.3 1250.9,528 1252,540 C1253.1,552 1252,570 1250,580 C1248,590 1242.6,604.1 1237,615 C1231.4,625.9 1214,658.7 1208,662 C1202,665.3 1196.8,650.3 1192,640 C1187.2,629.7 1177.3,600.3 1172,585 C1166.7,569.7 1156.3,542.3 1152,525 C1147.7,507.7 1142.4,471.7 1140,455 C1137.6,438.3 1135.6,411.9 1134,400 C1132.4,388.1 1124.5,371.3 1128,366Z" fill="#b8d1d0" opacity="1" filter="url(#b6)"/>
<path d="M985,385 C988.2,376.7 1002,370.8 1010,368 C1018,365.2 1036.3,364 1045,364 C1053.7,364 1067,366.9 1075,368 C1083,369.1 1097.4,371.7 1105,372 C1112.6,372.3 1127.6,363.6 1132,370 C1136.4,376.4 1136.5,405.3 1138,420 C1139.5,434.7 1140.6,464 1143,480 C1145.4,496 1151.6,524 1156,540 C1160.4,556 1170.5,585.3 1176,600 C1181.5,614.7 1193.5,638 1197,650 C1200.5,662 1201.3,680.7 1202,690 C1202.7,699.3 1201.6,712.7 1202,720 C1202.4,727.3 1205.9,737.7 1205,745 C1204.1,752.3 1199.7,767 1195,775 C1190.3,783 1177.3,796.6 1170,805 C1162.7,813.4 1148,830.9 1140,838 C1132,845.1 1116.7,855.1 1110,858 C1103.3,860.9 1094.5,861.3 1090,860 C1085.5,858.7 1077.3,853.1 1076,848 C1074.7,842.9 1077.5,828.4 1080,822 C1082.5,815.6 1092.3,805.6 1095,800 C1097.7,794.4 1101.3,785.3 1100,780 C1098.7,774.7 1090.1,764.3 1085,760 C1079.9,755.7 1067.3,750.4 1062,748 C1056.7,745.6 1049.9,743.7 1045,742 C1040.1,740.3 1029.7,737.9 1025,735 C1020.3,732.1 1012.5,724 1010,720 C1007.5,716 1002.7,708.1 1006,705 C1009.3,701.9 1030.5,700.3 1035,697 C1039.5,693.7 1040.7,684.9 1040,680 C1039.3,675.1 1033.3,664.7 1030,660 C1026.7,655.3 1019,649.7 1015,645 C1011,640.3 1003.1,631 1000,625 C996.9,619 993.9,607.3 992,600 C990.1,592.7 988.1,577.3 986,570 C983.9,562.7 978.4,551.7 976,545 C973.6,538.3 968.7,526.7 968,520 C967.3,513.3 971.3,501.7 971,495 C970.7,488.3 965.3,475.7 966,470 C966.7,464.3 973.3,457.3 976,452 C978.7,446.7 984.8,438.9 986,430 C987.2,421.1 981.8,393.3 985,385Z" fill="#bcc8d3" opacity="1" filter="url(#b6)"/>
<path d="M992,405 C1001.6,394.6 1035.6,393.3 1050,392 C1064.4,390.7 1090.7,384.6 1100,395 C1109.3,405.4 1116.7,448 1120,470 C1123.3,492 1126.3,537.3 1125,560 C1123.7,582.7 1115.7,621.3 1110,640 C1104.3,658.7 1090.7,693.3 1082,700 C1073.3,706.7 1054.3,700.7 1045,690 C1035.7,679.3 1019.1,639.3 1012,620 C1004.9,600.7 996.5,565 992,545 C987.5,525 978,488.7 978,470 C978,451.3 982.4,415.4 992,405Z" fill="#c0c3d5" opacity="0.6" filter="url(#b16)"/>
<path d="M1195,380 C1198.7,372.7 1223.1,377 1228,385 C1232.9,393 1229.6,426 1232,440 C1234.4,454 1242.8,477.3 1246,490 C1249.2,502.7 1254.9,523 1256,535 C1257.1,547 1256.1,569.7 1254,580 C1251.9,590.3 1244.3,604 1240,612 C1235.7,620 1225.3,641.6 1222,640 C1218.7,638.4 1215.5,612.7 1215,600 C1214.5,587.3 1218.7,559.7 1218,545 C1217.3,530.3 1212.4,504 1210,490 C1207.6,476 1202,454.7 1200,440 C1198,425.3 1191.3,387.3 1195,380Z" fill="#bdd8cd" opacity="0.9" filter="url(#b6)"/>
<path d="M1221,285 C1220.3,287.7 1217.7,299 1216,305 C1214.3,311 1209.1,326.7 1208,330" fill="none" stroke="#dde3bc" stroke-width="6" stroke-linecap="round" stroke-linejoin="round" opacity="0.9" filter="url(#b3)"/>
<path d="M1184,130 C1184.1,135.3 1183.4,161.7 1185,170 C1186.6,178.3 1192.7,185.1 1196,192 C1199.3,198.9 1207.2,214.3 1210,222 C1212.8,229.7 1215.7,242.3 1217,250 C1218.3,257.7 1219.6,276 1220,280" fill="none" stroke="#d6e2bd" stroke-width="8" stroke-linecap="round" stroke-linejoin="round" opacity="0.9" filter="url(#b3)"/>
<path d="M1233,380 C1233,388 1231,426.7 1233,440 C1235,453.3 1244.7,469.3 1248,480 C1251.3,490.7 1256.1,510.7 1258,520 C1259.9,529.3 1262.1,541.7 1262,550 C1261.9,558.3 1259.5,573.1 1257,582 C1254.5,590.9 1248.5,607 1243,617 C1237.5,627 1221.1,648.2 1216,657 C1210.9,665.8 1205.5,675.3 1205,683 C1204.5,690.7 1210.5,706.7 1212,715 C1213.5,723.3 1216.7,737.9 1216,745 C1215.3,752.1 1212.1,759.3 1207,768 C1201.9,776.7 1186.8,799.1 1178,810 C1169.2,820.9 1150.3,842.3 1141,850 C1131.7,857.7 1116.8,866.3 1108,868 C1099.2,869.7 1079.4,863.7 1075,863" fill="none" stroke="#cfe0c1" stroke-width="9" stroke-linecap="round" stroke-linejoin="round" opacity="0.95" filter="url(#b3)"/>
<path d="M1262,550 C1261.3,554.3 1259.5,573.1 1257,582 C1254.5,590.9 1248.5,607 1243,617 C1237.5,627 1219.6,651.7 1216,657" fill="none" stroke="#d9e3bc" stroke-width="4" stroke-linecap="round" stroke-linejoin="round" opacity="0.9" filter="url(#b2)"/>
<path d="M1150,525 C1154,519.7 1186,519.3 1200,520 C1214,520.7 1247.3,522 1255,530 C1262.7,538 1260,568 1258,580 C1256,592 1246.1,610 1240,620 C1233.9,630 1218,652.3 1212,655 C1206,657.7 1198.6,647.3 1195,640 C1191.4,632.7 1188.3,610.7 1185,600 C1181.7,589.3 1174.7,570 1170,560 C1165.3,550 1146,530.3 1150,525Z" fill="#bdd7cf" opacity="0.9" filter="url(#b10)"/>
<path d="M1180,600 C1182,605.3 1191.3,632.7 1195,640 C1198.7,647.3 1206.3,653 1208,655" fill="none" stroke="#d3e1be" stroke-width="8" stroke-linecap="round" stroke-linejoin="round" opacity="0.8" filter="url(#b6)"/>
<path d="M822,560 C827.7,550.4 849.7,546.4 858,548 C866.3,549.6 878.7,562.4 884,572 C889.3,581.6 895.1,605.6 898,620 C900.9,634.4 904,662.7 906,680 C908,697.3 911.1,731.3 913,750 C914.9,768.7 918.3,802.7 920,820 C921.7,837.3 925.5,861.3 926,880 C926.5,898.7 934.8,949.3 924,960 C913.2,970.7 856.9,970.7 845,960 C833.1,949.3 837.5,901.3 835,880 C832.5,858.7 828.3,824 826,800 C823.7,776 819.5,724 818,700 C816.5,676 814.5,638.7 815,620 C815.5,601.3 816.3,569.6 822,560Z" fill="#bec4d3" opacity="0.95" filter="url(#b10)"/>
<ellipse cx="862" cy="775" rx="28" ry="90" fill="#c1c2d3" opacity="0.7" filter="url(#b16)"/>
<path d="M718,240 C719.3,248 725.6,285.3 728,300 C730.4,314.7 733.7,336.7 736,350 C738.3,363.3 742.2,385.3 745,400 C747.8,414.7 753.9,444 757,460 C760.1,476 765.5,506.7 768,520 C770.5,533.3 774.4,544 776,560 C777.6,576 778.7,618.7 780,640 C781.3,661.3 784.1,698.7 786,720 C787.9,741.3 792.1,778.7 794,800 C795.9,821.3 798.4,860.7 800,880 C801.6,899.3 805.2,936.3 806,945" fill="none" stroke="#b9d6cf" stroke-width="46" stroke-linecap="round" stroke-linejoin="round" opacity="0.95" filter="url(#b10)"/>
<path d="M722,262 C723.3,269.7 729.5,304.9 732,320 C734.5,335.1 738.3,359.7 741,375 C743.7,390.3 748.7,417 752,435 C755.3,453 762.5,492 766,510 C769.5,528 775.6,552.7 778,570 C780.4,587.3 782.7,622.7 784,640 C785.3,657.3 786.7,682.7 788,700 C789.3,717.3 792.3,750 794,770 C795.7,790 799.1,826.7 801,850 C802.9,873.3 807.1,932.3 808,945" fill="none" stroke="#c4dcca" stroke-width="13" stroke-linecap="round" stroke-linejoin="round" opacity="0.9" filter="url(#b6)"/>
<path d="M912,441.5 C911.3,442 910.1,443.4 910,445 C909.9,446.6 910.4,455 910.5,458 C910.6,461 911.3,472.1 911.3,475 C911.2,477.9 910.2,484.8 910,487 C909.8,489.2 908.6,495.3 908.8,497.5 C909,499.7 911.2,506.8 912,509 C912.8,511.2 915.5,517.9 916.3,520 C917.1,522.1 919.2,528 920,530 C920.8,532 923.2,538.2 923.8,540 C924.3,541.8 925.1,546.5 925.5,548 C925.9,549.5 926.9,553.3 927.5,555 C928.1,556.7 931,563 932,565 C933,567 936.8,572.7 937.5,575 C938.2,577.3 939.2,585.5 939.5,588 C939.8,590.5 940,597.6 940,600 C940,602.4 940,609.5 940,612 C940,614.5 939.9,622.9 940,625 C940.1,627.1 941.1,631.5 941.5,633 C941.9,634.5 943.2,638.3 943.8,640 C944.4,641.7 946.6,647.5 947.5,650 C948.4,652.5 951.5,662 952.5,665 C953.5,668 956.8,677 958,680 C959.2,683 964,692.2 965,695 C966,697.8 967.1,705.5 967.5,708 C967.9,710.5 968.5,717.5 968.8,720 C969.1,722.5 970.1,730.5 970.5,733 C970.9,735.5 972,743.2 972.5,745 C973,746.8 974.8,749.6 975.5,750.5 C976.2,751.4 978.5,753.2 980,753.8 C981.5,754.3 988,755.6 990,756 C992,756.4 998.7,757.8 1000,757.5 C1001.3,757.2 1002.4,754 1003,753 C1003.6,752 1005.4,748.2 1006.3,747.5 C1007.2,746.8 1010.6,746.1 1012,746 C1013.4,745.9 1018.2,746.2 1020,746.5 C1021.8,746.8 1030,748.9 1030,748.8 C1030,748.7 1022,746.1 1020,745.5 C1018,744.9 1011.5,743.2 1010,742.5 C1008.5,741.8 1006,739 1005,738 C1004,737 1001,733.8 1000,732.5 C999,731.2 996.2,726.5 995.5,725 C994.8,723.5 992.8,719 992.5,717.5 C992.2,716 992.2,711.5 992.3,710 C992.4,708.5 993.2,703.8 993.8,702.5 C994.4,701.2 997.4,698 998.5,697 C999.6,696 1003.5,693.1 1005,692.5 C1006.5,691.9 1012.2,690.8 1014,690.5 C1015.8,690.2 1021.5,689.5 1023,689.5 C1024.5,689.5 1028.8,690.5 1029,690 C1029.2,689.5 1025.5,685.2 1025,684 C1024.5,682.8 1024.3,679 1023.8,677.5 C1023.3,676 1020.9,670.5 1020,669 C1019.1,667.5 1016.3,664 1015,662.5 C1013.7,661 1008.8,655.8 1007,654 C1005.2,652.2 999,646.4 997.5,645 C996,643.6 993.5,641.7 992.5,640 C991.5,638.3 989,630.5 988,628 C987,625.5 983.2,617.8 982.5,615 C981.8,612.2 981,603 980.5,600 C980,597 978.3,587.5 977.5,585 C976.7,582.5 973.5,577 972.5,575 C971.5,573 968.5,567.2 967.5,565 C966.5,562.8 963.5,555.2 962.5,553 C961.5,550.8 958.4,544.7 957.5,542.5 C956.6,540.3 954.5,533.2 954,531 C953.5,528.8 952.4,522.3 952.5,520 C952.6,517.7 954.4,510.5 955,508 C955.6,505.5 958.5,497.3 958.8,495 C959.1,492.7 958.4,487 958,485 C957.6,483 955.9,476.9 955,475 C954.1,473.1 950.2,467.8 949,466 C947.8,464.2 943.7,459.2 942.5,457.5 C941.3,455.8 938,450.6 937,449 C936,447.4 933.7,442.2 932.5,441.3 C931.3,440.4 926.5,439.6 925,439.5 C923.5,439.4 918.3,439.6 917,439.8 C915.7,440 912.7,441 912,441.5Z" fill="none" stroke="#c4dcc9" stroke-width="34" stroke-linejoin="round" filter="url(#b10)" opacity=".9"/>
<path d="M912,441.5 C911.3,442 910.1,443.4 910,445 C909.9,446.6 910.4,455 910.5,458 C910.6,461 911.3,472.1 911.3,475 C911.2,477.9 910.2,484.8 910,487 C909.8,489.2 908.6,495.3 908.8,497.5 C909,499.7 911.2,506.8 912,509 C912.8,511.2 915.5,517.9 916.3,520 C917.1,522.1 919.2,528 920,530 C920.8,532 923.2,538.2 923.8,540 C924.3,541.8 925.1,546.5 925.5,548 C925.9,549.5 926.9,553.3 927.5,555 C928.1,556.7 931,563 932,565 C933,567 936.8,572.7 937.5,575 C938.2,577.3 939.2,585.5 939.5,588 C939.8,590.5 940,597.6 940,600 C940,602.4 940,609.5 940,612 C940,614.5 939.9,622.9 940,625 C940.1,627.1 941.1,631.5 941.5,633 C941.9,634.5 943.2,638.3 943.8,640 C944.4,641.7 946.6,647.5 947.5,650 C948.4,652.5 951.5,662 952.5,665 C953.5,668 956.8,677 958,680 C959.2,683 964,692.2 965,695 C966,697.8 967.1,705.5 967.5,708 C967.9,710.5 968.5,717.5 968.8,720 C969.1,722.5 970.1,730.5 970.5,733 C970.9,735.5 972,743.2 972.5,745 C973,746.8 974.8,749.6 975.5,750.5 C976.2,751.4 978.5,753.2 980,753.8 C981.5,754.3 988,755.6 990,756 C992,756.4 998.7,757.8 1000,757.5 C1001.3,757.2 1002.4,754 1003,753 C1003.6,752 1005.4,748.2 1006.3,747.5 C1007.2,746.8 1010.6,746.1 1012,746 C1013.4,745.9 1018.2,746.2 1020,746.5 C1021.8,746.8 1030,748.9 1030,748.8 C1030,748.7 1022,746.1 1020,745.5 C1018,744.9 1011.5,743.2 1010,742.5 C1008.5,741.8 1006,739 1005,738 C1004,737 1001,733.8 1000,732.5 C999,731.2 996.2,726.5 995.5,725 C994.8,723.5 992.8,719 992.5,717.5 C992.2,716 992.2,711.5 992.3,710 C992.4,708.5 993.2,703.8 993.8,702.5 C994.4,701.2 997.4,698 998.5,697 C999.6,696 1003.5,693.1 1005,692.5 C1006.5,691.9 1012.2,690.8 1014,690.5 C1015.8,690.2 1021.5,689.5 1023,689.5 C1024.5,689.5 1028.8,690.5 1029,690 C1029.2,689.5 1025.5,685.2 1025,684 C1024.5,682.8 1024.3,679 1023.8,677.5 C1023.3,676 1020.9,670.5 1020,669 C1019.1,667.5 1016.3,664 1015,662.5 C1013.7,661 1008.8,655.8 1007,654 C1005.2,652.2 999,646.4 997.5,645 C996,643.6 993.5,641.7 992.5,640 C991.5,638.3 989,630.5 988,628 C987,625.5 983.2,617.8 982.5,615 C981.8,612.2 981,603 980.5,600 C980,597 978.3,587.5 977.5,585 C976.7,582.5 973.5,577 972.5,575 C971.5,573 968.5,567.2 967.5,565 C966.5,562.8 963.5,555.2 962.5,553 C961.5,550.8 958.4,544.7 957.5,542.5 C956.6,540.3 954.5,533.2 954,531 C953.5,528.8 952.4,522.3 952.5,520 C952.6,517.7 954.4,510.5 955,508 C955.6,505.5 958.5,497.3 958.8,495 C959.1,492.7 958.4,487 958,485 C957.6,483 955.9,476.9 955,475 C954.1,473.1 950.2,467.8 949,466 C947.8,464.2 943.7,459.2 942.5,457.5 C941.3,455.8 938,450.6 937,449 C936,447.4 933.7,442.2 932.5,441.3 C931.3,440.4 926.5,439.6 925,439.5 C923.5,439.4 918.3,439.6 917,439.8 C915.7,440 912.7,441 912,441.5Z" fill="none" stroke="#cfe0c2" stroke-width="18" stroke-linejoin="round" filter="url(#b6)" opacity=".95"/>
<path d="M912,441.5 C911.3,442 910.1,443.4 910,445 C909.9,446.6 910.4,455 910.5,458 C910.6,461 911.3,472.1 911.3,475 C911.2,477.9 910.2,484.8 910,487 C909.8,489.2 908.6,495.3 908.8,497.5 C909,499.7 911.2,506.8 912,509 C912.8,511.2 915.5,517.9 916.3,520 C917.1,522.1 919.2,528 920,530 C920.8,532 923.2,538.2 923.8,540 C924.3,541.8 925.1,546.5 925.5,548 C925.9,549.5 926.9,553.3 927.5,555 C928.1,556.7 931,563 932,565 C933,567 936.8,572.7 937.5,575 C938.2,577.3 939.2,585.5 939.5,588 C939.8,590.5 940,597.6 940,600 C940,602.4 940,609.5 940,612 C940,614.5 939.9,622.9 940,625 C940.1,627.1 941.1,631.5 941.5,633 C941.9,634.5 943.2,638.3 943.8,640 C944.4,641.7 946.6,647.5 947.5,650 C948.4,652.5 951.5,662 952.5,665 C953.5,668 956.8,677 958,680 C959.2,683 964,692.2 965,695 C966,697.8 967.1,705.5 967.5,708 C967.9,710.5 968.5,717.5 968.8,720 C969.1,722.5 970.1,730.5 970.5,733 C970.9,735.5 972,743.2 972.5,745 C973,746.8 974.8,749.6 975.5,750.5 C976.2,751.4 978.5,753.2 980,753.8 C981.5,754.3 988,755.6 990,756 C992,756.4 998.7,757.8 1000,757.5 C1001.3,757.2 1002.4,754 1003,753 C1003.6,752 1005.4,748.2 1006.3,747.5 C1007.2,746.8 1010.6,746.1 1012,746 C1013.4,745.9 1018.2,746.2 1020,746.5 C1021.8,746.8 1030,748.9 1030,748.8 C1030,748.7 1022,746.1 1020,745.5 C1018,744.9 1011.5,743.2 1010,742.5 C1008.5,741.8 1006,739 1005,738 C1004,737 1001,733.8 1000,732.5 C999,731.2 996.2,726.5 995.5,725 C994.8,723.5 992.8,719 992.5,717.5 C992.2,716 992.2,711.5 992.3,710 C992.4,708.5 993.2,703.8 993.8,702.5 C994.4,701.2 997.4,698 998.5,697 C999.6,696 1003.5,693.1 1005,692.5 C1006.5,691.9 1012.2,690.8 1014,690.5 C1015.8,690.2 1021.5,689.5 1023,689.5 C1024.5,689.5 1028.8,690.5 1029,690 C1029.2,689.5 1025.5,685.2 1025,684 C1024.5,682.8 1024.3,679 1023.8,677.5 C1023.3,676 1020.9,670.5 1020,669 C1019.1,667.5 1016.3,664 1015,662.5 C1013.7,661 1008.8,655.8 1007,654 C1005.2,652.2 999,646.4 997.5,645 C996,643.6 993.5,641.7 992.5,640 C991.5,638.3 989,630.5 988,628 C987,625.5 983.2,617.8 982.5,615 C981.8,612.2 981,603 980.5,600 C980,597 978.3,587.5 977.5,585 C976.7,582.5 973.5,577 972.5,575 C971.5,573 968.5,567.2 967.5,565 C966.5,562.8 963.5,555.2 962.5,553 C961.5,550.8 958.4,544.7 957.5,542.5 C956.6,540.3 954.5,533.2 954,531 C953.5,528.8 952.4,522.3 952.5,520 C952.6,517.7 954.4,510.5 955,508 C955.6,505.5 958.5,497.3 958.8,495 C959.1,492.7 958.4,487 958,485 C957.6,483 955.9,476.9 955,475 C954.1,473.1 950.2,467.8 949,466 C947.8,464.2 943.7,459.2 942.5,457.5 C941.3,455.8 938,450.6 937,449 C936,447.4 933.7,442.2 932.5,441.3 C931.3,440.4 926.5,439.6 925,439.5 C923.5,439.4 918.3,439.6 917,439.8 C915.7,440 912.7,441 912,441.5Z" fill="none" stroke="#dfe4bd" stroke-width="8" stroke-linejoin="round" filter="url(#b3)" opacity=".95"/>
<path d="M1000,757 C1007.7,753.7 1022,747 1030,745 C1038,743 1052,741.1 1060,742 C1068,742.9 1084,747.6 1090,752 C1096,756.4 1103.7,769.3 1105,775 C1106.3,780.7 1102.7,790.1 1100,795 C1097.3,799.9 1089.7,806.7 1085,812 C1080.3,817.3 1069.7,828.9 1065,835 C1060.3,841.1 1054.7,855.7 1050,858 C1045.3,860.3 1035.3,854.1 1030,852 C1024.7,849.9 1015.3,844.9 1010,842 C1004.7,839.1 994.7,835.6 990,830 C985.3,824.4 977.4,808 975,800 C972.6,792 968.7,775.7 972,770 C975.3,764.3 992.3,760.3 1000,757Z" fill="#d2e1bf" opacity="1" filter="url(#b6)"/>
<path d="M1040,750 C1044.7,745.1 1067.3,745.3 1075,748 C1082.7,750.7 1095.7,763.7 1098,770 C1100.3,776.3 1095.7,789 1092,795 C1088.3,801 1075.9,812.7 1070,815 C1064.1,817.3 1052,816 1048,812 C1044,808 1041.1,793.3 1040,785 C1038.9,776.7 1035.3,754.9 1040,750Z" fill="#d9e3bc" opacity="0.95" filter="url(#b6)"/>
<path d="M1062,805 C1066.4,801 1078.6,799.1 1085,800 C1091.4,800.9 1103.3,809.3 1110,812 C1116.7,814.7 1129.7,817.3 1135,820 C1140.3,822.7 1150,828.3 1150,832 C1150,835.7 1140.3,844.5 1135,848 C1129.7,851.5 1116.7,856.7 1110,858 C1103.3,859.3 1091,859.3 1085,858 C1079,856.7 1069.4,851.7 1065,848 C1060.6,844.3 1052.4,835.7 1052,830 C1051.6,824.3 1057.6,809 1062,805Z" fill="#bdcbd4" opacity="0.95" filter="url(#b6)"/>
<path d="M960,760 C966.9,755.3 990,762.3 1000,765 C1010,767.7 1029.9,771.3 1035,780 C1040.1,788.7 1041.3,822.3 1038,830 C1034.7,837.7 1017.1,838.7 1010,838 C1002.9,837.3 990.3,823.4 985,825 C979.7,826.6 968,842.7 970,850 C972,857.3 993.3,870.7 1000,880 C1006.7,889.3 1016,910.7 1020,920 C1024,929.3 1036,946 1030,950 C1024,954 984.3,956.7 975,950 C965.7,943.3 963.3,913.3 960,900 C956.7,886.7 951.6,863.3 950,850 C948.4,836.7 946.7,812 948,800 C949.3,788 953.1,764.7 960,760Z" fill="#c9dfc5" opacity="0.95" filter="url(#b10)"/>
<path d="M1005,880 C1006.3,883.3 1012.3,898.3 1015,905 C1017.7,911.7 1023.7,926.7 1025,930" fill="none" stroke="#e0e4bd" stroke-width="8" stroke-linecap="round" stroke-linejoin="round" opacity="0.9" filter="url(#b3)"/>
<path d="M985,790 C988.3,791.3 1004,796.7 1010,800 C1016,803.3 1027.3,813 1030,815" fill="none" stroke="#dbe3bd" stroke-width="10" stroke-linecap="round" stroke-linejoin="round" opacity="0.8" filter="url(#b6)"/>
<path d="M972,832 C972.8,825.3 984.3,817.9 988,820 C991.7,822.1 996.3,841.6 1000,848 C1003.7,854.4 1012,861.3 1016,868 C1020,874.7 1026.8,888.7 1030,898 C1033.2,907.3 1042.9,932.1 1040,938 C1037.1,943.9 1013.6,946.4 1008,942 C1002.4,937.6 1001.5,914.6 998,905 C994.5,895.4 985.5,879.7 982,870 C978.5,860.3 971.2,838.7 972,832Z" fill="#dbe3bd" opacity="0.8" filter="url(#b6)"/>
<path d="M906,306 L908,302.5 L911,303.5 L913.5,300.5 L916.5,302 L917.5,306.5 L918.5,311 L920,316 L921.5,321 L920,322 L917.5,317 L914,315.5 L910,316.5 L906.5,314.5 L905.5,310 Z" fill="#f3f0cd" filter="url(#b2)" opacity=".95" transform="translate(0,0)"/>
<path d="M907,306 L909,303.5 L912,304.5 L914.5,302.5 L916,306 L917,311 L918.5,316 L916,315 L912,314.5 L908,313.5 L906.5,310 Z" fill="#f5f2d0"/>
<path d="M1156,34 L1176,34 L1160,53 L1147,66.5 L1141,69 L1137,60 L1146,54 L1152,48 Z" fill="#b3cccb"/>
<path d="M1178.5,34 L1173.9,39.4 L1166,47.5 L1158.2,55 L1152,61.5 L1147,66.2 L1143.1,68.4 L1143.7,72.9 L1147.5,74.2 L1151.5,75.1 L1153,78 L1153.7,80.7 L1157,81.8 L1161,82.6 L1164.9,84 L1168.5,86.5 L1171.6,89.6 L1174,94 L1175.5,98.6 L1175.3,102 L1173.9,104.2 L1171,104.3 L1168.3,104 L1164,104.8 L1160.4,105.3 L1158.2,106.4 L1161.5,111.5 L1164.9,116.4 L1170.5,120.5 L1176.1,124.3 L1182.8,126.5 L1182.5,136 L1183,148.5 L1183.8,161 L1185,173.5 L1190,182.3 L1195,191 L1200,201 L1205,211 L1208.8,218.5 L1212.5,226 L1215,236 L1217.5,248.5 L1218.8,261 L1220,271 L1221.3,285 L1219.5,295 L1216.5,305 L1213.3,312 L1210.4,321.8 L1204.5,333.5 L1193.7,341.4 L1181,346.3 L1172.2,349.2 L1164,354 L1158,360 L1160,363.5 L1170,363.8 L1185,363 L1200,362.8 L1211.4,363.4 L1216.3,365.9 L1222.2,368.8 L1230,374.7 L1231,380 L1232,386.5 L1233.9,398.2 L1234.5,410 L1233.8,420 L1233.3,432 L1232.5,442.5 L1228,447 L1223.8,450 L1223.8,460 L1230,461.5 L1237.5,462.5 L1238.3,467 L1238.8,472.5 L1243,473.2 L1247.5,473.8 L1248.8,483 L1250,492.5 L1252.5,501 L1255,510 L1258.5,521 L1261.3,528 L1262.3,540 L1262.5,550 L1261,563 L1258.8,575 L1256,585 L1252.5,595 L1247.5,606 L1242.5,617.5 L1236.5,627.5 L1230,637.5 L1222.5,647.5 L1215,657.5 L1210.5,666 L1206.3,675 L1204.2,680 L1203.8,685 L1206.5,692 L1210,700 L1211.5,709 L1212.5,717.5 L1215,721.5 L1217.5,725 L1217,735 L1216.3,745 L1213.5,755 L1210,765 L1207.5,767.5 L1201,778 L1195,787.5 L1186,799 L1177.5,810 L1167,821.5 L1157.5,832.5 L1148.5,841.5 L1140,850 L1132.5,856.5 L1125,862.5 L1116,866.5 L1107.5,868.8 L1098,869.5 L1090,868.8 L1082,866.5 L1075,863.8 L1067.5,865.5 L1060,865 L1050,863.8 L1042,861 L1035,857.5 L1030.5,852.5 L1026.3,847.5 L1018,845 L1010,842.5 L1003.5,837 L997.5,832.5 L993,831 L988.8,831.3 L987.6,834.5 L988.2,838.5 L990,843.5 L992.5,847.5 L998.5,850.5 L1005,852.5 L1012.5,857 L1020,862.5 L1024,867.5 L1027,872.5 L1032.5,882.5 L1037,892.5 L1040,902.5 L1042,912.5 L1042,925 L1041,942 L1410,942 L1410,34Z" fill="#f9f9f7"/>
<path d="M1128,34 L1158.5,34 L1151.5,48.3 L1145.9,53.9 L1138.1,58.9 L1130.3,61.1 L1122.5,61.3 L1124.1,55 L1126.9,47.2 L1129.2,42.7Z" fill="#f8f8f6"/>
<path d="M912,441.5 C911.3,442 910.1,443.4 910,445 C909.9,446.6 910.4,455 910.5,458 C910.6,461 911.3,472.1 911.3,475 C911.2,477.9 910.2,484.8 910,487 C909.8,489.2 908.6,495.3 908.8,497.5 C909,499.7 911.2,506.8 912,509 C912.8,511.2 915.5,517.9 916.3,520 C917.1,522.1 919.2,528 920,530 C920.8,532 923.2,538.2 923.8,540 C924.3,541.8 925.1,546.5 925.5,548 C925.9,549.5 926.9,553.3 927.5,555 C928.1,556.7 931,563 932,565 C933,567 936.8,572.7 937.5,575 C938.2,577.3 939.2,585.5 939.5,588 C939.8,590.5 940,597.6 940,600 C940,602.4 940,609.5 940,612 C940,614.5 939.9,622.9 940,625 C940.1,627.1 941.1,631.5 941.5,633 C941.9,634.5 943.2,638.3 943.8,640 C944.4,641.7 946.6,647.5 947.5,650 C948.4,652.5 951.5,662 952.5,665 C953.5,668 956.8,677 958,680 C959.2,683 964,692.2 965,695 C966,697.8 967.1,705.5 967.5,708 C967.9,710.5 968.5,717.5 968.8,720 C969.1,722.5 970.1,730.5 970.5,733 C970.9,735.5 972,743.2 972.5,745 C973,746.8 974.8,749.6 975.5,750.5 C976.2,751.4 978.5,753.2 980,753.8 C981.5,754.3 988,755.6 990,756 C992,756.4 998.7,757.8 1000,757.5 C1001.3,757.2 1002.4,754 1003,753 C1003.6,752 1005.4,748.2 1006.3,747.5 C1007.2,746.8 1010.6,746.1 1012,746 C1013.4,745.9 1018.2,746.2 1020,746.5 C1021.8,746.8 1030,748.9 1030,748.8 C1030,748.7 1022,746.1 1020,745.5 C1018,744.9 1011.5,743.2 1010,742.5 C1008.5,741.8 1006,739 1005,738 C1004,737 1001,733.8 1000,732.5 C999,731.2 996.2,726.5 995.5,725 C994.8,723.5 992.8,719 992.5,717.5 C992.2,716 992.2,711.5 992.3,710 C992.4,708.5 993.2,703.8 993.8,702.5 C994.4,701.2 997.4,698 998.5,697 C999.6,696 1003.5,693.1 1005,692.5 C1006.5,691.9 1012.2,690.8 1014,690.5 C1015.8,690.2 1021.5,689.5 1023,689.5 C1024.5,689.5 1028.8,690.5 1029,690 C1029.2,689.5 1025.5,685.2 1025,684 C1024.5,682.8 1024.3,679 1023.8,677.5 C1023.3,676 1020.9,670.5 1020,669 C1019.1,667.5 1016.3,664 1015,662.5 C1013.7,661 1008.8,655.8 1007,654 C1005.2,652.2 999,646.4 997.5,645 C996,643.6 993.5,641.7 992.5,640 C991.5,638.3 989,630.5 988,628 C987,625.5 983.2,617.8 982.5,615 C981.8,612.2 981,603 980.5,600 C980,597 978.3,587.5 977.5,585 C976.7,582.5 973.5,577 972.5,575 C971.5,573 968.5,567.2 967.5,565 C966.5,562.8 963.5,555.2 962.5,553 C961.5,550.8 958.4,544.7 957.5,542.5 C956.6,540.3 954.5,533.2 954,531 C953.5,528.8 952.4,522.3 952.5,520 C952.6,517.7 954.4,510.5 955,508 C955.6,505.5 958.5,497.3 958.8,495 C959.1,492.7 958.4,487 958,485 C957.6,483 955.9,476.9 955,475 C954.1,473.1 950.2,467.8 949,466 C947.8,464.2 943.7,459.2 942.5,457.5 C941.3,455.8 938,450.6 937,449 C936,447.4 933.7,442.2 932.5,441.3 C931.3,440.4 926.5,439.6 925,439.5 C923.5,439.4 918.3,439.6 917,439.8 C915.7,440 912.7,441 912,441.5Z" fill="#fbfbfa"/>
<clipPath id="cpLandR"><path d="M1178.5,34 L1173.9,39.4 L1166,47.5 L1158.2,55 L1152,61.5 L1147,66.2 L1143.1,68.4 L1143.7,72.9 L1147.5,74.2 L1151.5,75.1 L1153,78 L1153.7,80.7 L1157,81.8 L1161,82.6 L1164.9,84 L1168.5,86.5 L1171.6,89.6 L1174,94 L1175.5,98.6 L1175.3,102 L1173.9,104.2 L1171,104.3 L1168.3,104 L1164,104.8 L1160.4,105.3 L1158.2,106.4 L1161.5,111.5 L1164.9,116.4 L1170.5,120.5 L1176.1,124.3 L1182.8,126.5 L1182.5,136 L1183,148.5 L1183.8,161 L1185,173.5 L1190,182.3 L1195,191 L1200,201 L1205,211 L1208.8,218.5 L1212.5,226 L1215,236 L1217.5,248.5 L1218.8,261 L1220,271 L1221.3,285 L1219.5,295 L1216.5,305 L1213.3,312 L1210.4,321.8 L1204.5,333.5 L1193.7,341.4 L1181,346.3 L1172.2,349.2 L1164,354 L1158,360 L1160,363.5 L1170,363.8 L1185,363 L1200,362.8 L1211.4,363.4 L1216.3,365.9 L1222.2,368.8 L1230,374.7 L1231,380 L1232,386.5 L1233.9,398.2 L1234.5,410 L1233.8,420 L1233.3,432 L1232.5,442.5 L1228,447 L1223.8,450 L1223.8,460 L1230,461.5 L1237.5,462.5 L1238.3,467 L1238.8,472.5 L1243,473.2 L1247.5,473.8 L1248.8,483 L1250,492.5 L1252.5,501 L1255,510 L1258.5,521 L1261.3,528 L1262.3,540 L1262.5,550 L1261,563 L1258.8,575 L1256,585 L1252.5,595 L1247.5,606 L1242.5,617.5 L1236.5,627.5 L1230,637.5 L1222.5,647.5 L1215,657.5 L1210.5,666 L1206.3,675 L1204.2,680 L1203.8,685 L1206.5,692 L1210,700 L1211.5,709 L1212.5,717.5 L1215,721.5 L1217.5,725 L1217,735 L1216.3,745 L1213.5,755 L1210,765 L1207.5,767.5 L1201,778 L1195,787.5 L1186,799 L1177.5,810 L1167,821.5 L1157.5,832.5 L1148.5,841.5 L1140,850 L1132.5,856.5 L1125,862.5 L1116,866.5 L1107.5,868.8 L1098,869.5 L1090,868.8 L1082,866.5 L1075,863.8 L1067.5,865.5 L1060,865 L1050,863.8 L1042,861 L1035,857.5 L1030.5,852.5 L1026.3,847.5 L1018,845 L1010,842.5 L1003.5,837 L997.5,832.5 L993,831 L988.8,831.3 L987.6,834.5 L988.2,838.5 L990,843.5 L992.5,847.5 L998.5,850.5 L1005,852.5 L1012.5,857 L1020,862.5 L1024,867.5 L1027,872.5 L1032.5,882.5 L1037,892.5 L1040,902.5 L1042,912.5 L1042,925 L1041,942 L1410,942 L1410,34Z"/></clipPath>
<pattern id="grid" width="9" height="7" patternUnits="userSpaceOnUse" patternTransform="rotate(4)"><rect width="9" height="7" fill="#f2f2f0"/><path d="M0,0.5 H9 M0.5,0 V7" stroke="#fbfbfa" stroke-width="1.2"/></pattern>
<g clip-path="url(#cpLandR)">
<path d="M1150,36 C1178,28 1375.2,5.2 1405,36 C1434.8,66.8 1409.1,265.7 1405,300 C1400.9,334.3 1378.8,327.7 1370,330 C1361.2,332.3 1338.2,323.5 1330,320 C1321.8,316.5 1307,301.2 1300,300 C1293,298.8 1277,310 1270,310 C1263,310 1245.2,303.5 1240,300 C1234.8,296.5 1227.3,287 1225,280 C1222.7,273 1222.3,248.8 1220,240 C1217.7,231.2 1208.7,213.2 1205,205 C1201.3,196.8 1190.2,179.3 1188,170 C1185.8,160.7 1188.7,132.6 1186,125 C1183.3,117.4 1169.2,115.4 1165,105 C1160.8,94.6 1122,44 1150,36Z" fill="url(#grid)" filter="url(#b2)" opacity=".9"/>
<path d="M1290,300 C1302.8,295.3 1391.6,283 1405,290 C1418.4,297 1410.2,350.7 1405,360 C1399.8,369.3 1369.9,371.2 1360,370 C1350.1,368.8 1327.6,354.7 1320,350 C1312.4,345.3 1298.5,335.8 1295,330 C1291.5,324.2 1277.2,304.7 1290,300Z" fill="url(#grid)" filter="url(#b2)" opacity=".9"/>
<path d="M1330,690 C1339.9,683 1396.2,650.8 1405,680 C1413.8,709.2 1407.9,909.7 1405,940 C1402.1,970.3 1384.1,947 1380,940 C1375.9,933 1374.1,891.7 1370,880 C1365.9,868.3 1348.5,851.7 1345,840 C1341.5,828.3 1342.9,791.7 1340,780 C1337.1,768.3 1321.2,750.5 1320,740 C1318.8,729.5 1320.1,697 1330,690Z" fill="url(#grid)" filter="url(#b2)" opacity=".9"/>
<path d="M1050,868 C1059,864.5 1108.3,872.1 1120,870 C1131.7,867.9 1143,854.7 1150,850 C1157,845.3 1170.7,828.8 1180,830 C1189.3,831.2 1220.7,854.2 1230,860 C1239.3,865.8 1257.7,870.7 1260,880 C1262.3,889.3 1275.1,933 1250,940 C1224.9,947 1069.2,944.7 1045,940 C1020.9,935.3 1042.4,908.4 1043,900 C1043.6,891.6 1041,871.5 1050,868Z" fill="url(#grid)" filter="url(#b2)" opacity=".9"/>
<path d="M1271,397 C1274.5,393.5 1295.9,392.3 1300,395 C1304.1,397.7 1305.5,413.4 1306,420 C1306.5,426.6 1307.6,448.3 1304,452 C1300.4,455.7 1279,455.1 1275,452 C1271,448.9 1270.5,431.4 1270,425 C1269.5,418.6 1267.5,400.5 1271,397Z" fill="#edf2ec" filter="url(#b2)"/>
<path d="M1388,360 C1389.5,352.8 1403,350.4 1405,358 C1407,365.6 1406.5,417.8 1405,425 C1403.5,432.2 1394,427.6 1392,420 C1390,412.4 1386.5,367.2 1388,360Z" fill="#e9f0e8" filter="url(#b2)"/>
<path d="M1265,520 C1270.5,517.1 1309.5,517.1 1315,520 C1320.5,522.9 1314.9,541.5 1312,545 C1309.1,548.5 1295.1,550 1290,550 C1284.9,550 1270.9,548.5 1268,545 C1265.1,541.5 1259.5,522.9 1265,520Z" fill="#edf2ec" filter="url(#b2)"/>
<path d="M1312,735 C1319.2,731.9 1369.7,733.9 1377,738 C1384.3,742.1 1379.3,766 1375,770 C1370.7,774 1347,772.6 1340,772 C1333,771.4 1318.3,769.3 1315,765 C1311.7,760.7 1304.8,738.1 1312,735Z" fill="#edf2ec" filter="url(#b2)"/>
<path d="M1292,770 C1294.9,760 1316.5,761.5 1320,772 C1323.5,782.5 1324.9,850 1322,860 C1319.1,870 1298.5,868.5 1295,858 C1291.5,847.5 1289.1,780 1292,770Z" fill="#edf2ec" filter="url(#b2)"/>
<path d="M1235,825 C1238.7,820.6 1265.7,818.1 1270,822 C1274.3,825.9 1275.7,853.6 1272,858 C1268.3,862.4 1242.3,863.9 1238,860 C1233.7,856.1 1231.3,829.4 1235,825Z" fill="#edf2ec" filter="url(#b2)"/>
<path d="M1255,880 C1260.6,872.1 1291,871.4 1300,872 C1309,872.6 1327.9,877.1 1332,885 C1336.1,892.9 1344.3,933.6 1335,940 C1325.7,946.4 1261.3,947 1252,940 C1242.7,933 1249.4,887.9 1255,880Z" fill="#edf2ec" filter="url(#b2)"/>
<path d="M1200,330 C1203.5,327.4 1230.6,334.3 1235,338 C1239.4,341.7 1241.5,359.4 1238,362 C1234.5,364.6 1209.4,363.7 1205,360 C1200.6,356.3 1196.5,332.6 1200,330Z" fill="#f0f4ee" filter="url(#b2)"/>
<path d="M1230,105 C1234.2,101.7 1263.3,97.7 1268,100 C1272.7,102.3 1274.2,121.7 1270,125 C1265.8,128.3 1236.7,130.3 1232,128 C1227.3,125.7 1225.8,108.3 1230,105Z" fill="#edf2ec" filter="url(#b2)"/>
<path d="M1228,50 C1232.7,46.9 1265.1,45.1 1270,48 C1274.9,50.9 1274.7,71.8 1270,75 C1265.3,78.2 1234.9,77.9 1230,75 C1225.1,72.1 1223.3,53.1 1228,50Z" fill="#edf2ec" filter="url(#b2)"/>
<path d="M1045,870 C1048.5,866.7 1069.2,870.2 1075,872 C1080.8,873.8 1093.2,880 1095,885 C1096.8,890 1094.1,910.9 1090,915 C1085.9,919.1 1065.2,921.8 1060,920 C1054.8,918.2 1046.8,905.8 1045,900 C1043.2,894.2 1041.5,873.3 1045,870Z" fill="#eaf0ea" filter="url(#b2)"/>
<path d="M988,831 L1000,836 L1012,844 L1027,849 L1036,858 L1050,864 L1064,866 L1064,906 L1044,914 L1037,893 L1027,873 L1020,862 L1005,852 L992,847 Z" fill="#f0f3f0"/>
<path d="M1268,337 C1269.2,335.7 1273.5,334.9 1275,336 C1276.5,337.1 1278.9,342.3 1279,345 C1279.1,347.7 1275.7,353.5 1276,356 C1276.3,358.5 1279.7,361.6 1281,364 C1282.3,366.4 1285.6,371.5 1286,374 C1286.4,376.5 1285.6,381.5 1284,383 C1282.4,384.5 1276.7,385.4 1274,385 C1271.3,384.6 1266,382.3 1264,380 C1262,377.7 1259.3,371.2 1259,368 C1258.7,364.8 1261.1,358.9 1262,356 C1262.9,353.1 1265.2,348.5 1266,346 C1266.8,343.5 1266.8,338.3 1268,337Z" fill="#dde2e5"/>
<ellipse cx="1247" cy="202" rx="2.6" ry="5" fill="#dde2e5"/>
<ellipse cx="1271" cy="275" rx="3.5" ry="5" fill="#dde2e5" transform="rotate(10 1271 275)"/>
<ellipse cx="1394" cy="241" rx="5" ry="6.5" fill="#dde2e5"/>
<ellipse cx="1307.5" cy="494" rx="3.5" ry="4" fill="#e3e7e8"/>
<ellipse cx="1077.5" cy="897.5" rx="7" ry="9" fill="#dde2e5" transform="rotate(-10 1077.5 897.5)"/>
<ellipse cx="1302.5" cy="917" rx="28" ry="21" fill="#dde2e5" transform="rotate(-8 1302.5 917)"/>
<path d="M1160.4,105.8 L1168,108 L1176.1,112 L1178.5,117 L1179.4,122.5 L1174,121.5 L1169.4,118.7 L1164,114 L1160.4,109.7 Z" fill="#dde2e5"/>
<rect x="1388" y="640" width="5" height="18" fill="#e3e6e8"/><rect x="1395" y="636" width="6" height="20" fill="#e3e6e8"/>
<path d="M1312,36 C1313,100 1312,150 1318,175 S1330,215 1330,250 S1326,300 1305,340 S1300,420 1304,470 S1300,560 1296,620 S1290,700 1285,760 S1270,840 1255,900 L1250,940" fill="none" stroke="#ededea" stroke-width="2.2" stroke-linecap="round"/>
<path d="M1180,51 H1405" fill="none" stroke="#ededea" stroke-width="2.2" stroke-linecap="round"/>
<path d="M1186,97 C1260,96 1320,98 1405,118" fill="none" stroke="#ededea" stroke-width="2.2" stroke-linecap="round"/>
<path d="M1186,136 H1405" fill="none" stroke="#ededea" stroke-width="2.2" stroke-linecap="round"/>
<path d="M1200,206 H1405" fill="none" stroke="#ededea" stroke-width="2.2" stroke-linecap="round"/>
<path d="M1215,151 C1250,170 1280,190 1296,200 S1318,260 1330,300" fill="none" stroke="#ededea" stroke-width="2.2" stroke-linecap="round"/>
<path d="M1222,300 C1250,305 1300,322 1340,326 S1380,330 1405,330" fill="none" stroke="#ededea" stroke-width="2.2" stroke-linecap="round"/>
<path d="M1238,380 C1260,395 1290,398 1310,398 S1370,420 1405,445" fill="none" stroke="#ededea" stroke-width="2.2" stroke-linecap="round"/>
<path d="M1262,540 C1275,560 1285,590 1290,620 M1296,620 C1330,600 1370,630 1405,632" fill="none" stroke="#ededea" stroke-width="2.2" stroke-linecap="round"/>
<path d="M1270,700 C1300,690 1340,700 1370,690 S1395,690 1405,686" fill="none" stroke="#ededea" stroke-width="2.2" stroke-linecap="round"/>
<path d="M1150,870 C1180,850 1210,830 1230,800 S1260,750 1272,730" fill="none" stroke="#ededea" stroke-width="2.2" stroke-linecap="round"/>
<path d="M1120,872 H1300 C1330,880 1360,900 1405,905" fill="none" stroke="#ededea" stroke-width="2.2" stroke-linecap="round"/>
<path d="M1215,840 C1218,870 1222,900 1215,940" fill="none" stroke="#ededea" stroke-width="2.2" stroke-linecap="round"/>
<path d="M1200,190 C1215,230 1232,300 1236,340 S1240,420 1243,470 S1262,520 1266,560 S1240,640 1222,680 S1225,740 1218,770 S1170,840 1140,868" fill="none" stroke="#ededea" stroke-width="2.2" stroke-linecap="round"/>
<path d="M1312,36 C1313,100 1312,150 1318,175 S1330,215 1330,250 S1326,300 1305,340 S1300,420 1304,470 S1300,560 1296,620 S1290,700 1285,760 S1270,840 1255,900 L1250,940" fill="none" stroke="#fcfcfb" stroke-width="1.3" stroke-linecap="round"/>
<path d="M1180,51 H1405" fill="none" stroke="#fcfcfb" stroke-width="1.3" stroke-linecap="round"/>
<path d="M1186,97 C1260,96 1320,98 1405,118" fill="none" stroke="#fcfcfb" stroke-width="1.3" stroke-linecap="round"/>
<path d="M1186,136 H1405" fill="none" stroke="#fcfcfb" stroke-width="1.3" stroke-linecap="round"/>
<path d="M1200,206 H1405" fill="none" stroke="#fcfcfb" stroke-width="1.3" stroke-linecap="round"/>
<path d="M1215,151 C1250,170 1280,190 1296,200 S1318,260 1330,300" fill="none" stroke="#fcfcfb" stroke-width="1.3" stroke-linecap="round"/>
<path d="M1222,300 C1250,305 1300,322 1340,326 S1380,330 1405,330" fill="none" stroke="#fcfcfb" stroke-width="1.3" stroke-linecap="round"/>
<path d="M1238,380 C1260,395 1290,398 1310,398 S1370,420 1405,445" fill="none" stroke="#fcfcfb" stroke-width="1.3" stroke-linecap="round"/>
<path d="M1262,540 C1275,560 1285,590 1290,620 M1296,620 C1330,600 1370,630 1405,632" fill="none" stroke="#fcfcfb" stroke-width="1.3" stroke-linecap="round"/>
<path d="M1270,700 C1300,690 1340,700 1370,690 S1395,690 1405,686" fill="none" stroke="#fcfcfb" stroke-width="1.3" stroke-linecap="round"/>
<path d="M1150,870 C1180,850 1210,830 1230,800 S1260,750 1272,730" fill="none" stroke="#fcfcfb" stroke-width="1.3" stroke-linecap="round"/>
<path d="M1120,872 H1300 C1330,880 1360,900 1405,905" fill="none" stroke="#fcfcfb" stroke-width="1.3" stroke-linecap="round"/>
<path d="M1215,840 C1218,870 1222,900 1215,940" fill="none" stroke="#fcfcfb" stroke-width="1.3" stroke-linecap="round"/>
<path d="M1200,190 C1215,230 1232,300 1236,340 S1240,420 1243,470 S1262,520 1266,560 S1240,640 1222,680 S1225,740 1218,770 S1170,840 1140,868" fill="none" stroke="#fcfcfb" stroke-width="1.3" stroke-linecap="round"/>
<path d="M1233,148 H1262 M1211,772 H1250 M1296,780 V840 H1308 V865 M1340,905 H1380" fill="none" stroke="#e7b4b4" stroke-width=".7" stroke-dasharray="1.2 1.5" opacity=".8"/>
</g>
<path d="M915,497 L941,477 M934,500 L953,498 L950,522 L934,524 Z M957,590 L983,650 L998,690 M975,600 L990,640" fill="none" stroke="#e6e6e4" stroke-width=".7"/>
<text x="1188.8" y="64" font-size="6.3" letter-spacing="0.25" fill="#8493ad" >Fremantle</text>
<text x="1233.8" y="54" font-size="3.7" letter-spacing="0.1" fill="#a3afc2" >High Street</text>
<text x="1336.3" y="57" font-size="4.3" letter-spacing="0.45" fill="#97a5ba" >WILLAGEE</text>
<text x="1295" y="85" font-size="4.3" letter-spacing="0.45" fill="#97a5ba" >O&#8217;CONNOR</text>
<text x="1365" y="106" font-size="4.3" letter-spacing="0.45" fill="#97a5ba" >KARDINYA</text>
<text x="1280" y="116" font-size="4.3" letter-spacing="0.45" fill="#97a5ba" >HILTON</text>
<text x="1375" y="116.5" font-size="3.7" letter-spacing="0.1" fill="#a3afc2" >South Street</text>
<text x="1217.5" y="121" font-size="4.3" letter-spacing="0.45" fill="#97a5ba" >BEACONSFIELD</text>
<text x="1250.5" y="176" font-size="4.3" letter-spacing="0.45" fill="#97a5ba" >HAMILTON HILL</text>
<text x="1200" y="204" font-size="4.3" letter-spacing="0.45" fill="#97a5ba" >NORTH</text>
<text x="1199" y="210.3" font-size="4.3" letter-spacing="0.45" fill="#97a5ba" >COOGEE</text>
<text x="1376" y="228" font-size="4.3" letter-spacing="0.45" fill="#97a5ba" >BIBRA LAKE</text>
<text x="1268" y="247" font-size="4.3" letter-spacing="0.45" fill="#97a5ba" >SPEARWOOD</text>
<text x="1313.5" y="55" font-size="3.6" letter-spacing="0.1" fill="#a3afc2" transform="rotate(86 1313.5 55)" >Stock Road</text>
<text x="1307" y="128" font-size="3.6" letter-spacing="0.1" fill="#a3afc2" transform="rotate(72 1307 128)" >Stock Road</text>
<text x="1325.5" y="181" font-size="3.6" letter-spacing="0.1" fill="#a3afc2" transform="rotate(76 1325.5 181)" >Stock Road</text>
<text x="1218" y="312.5" font-size="4.3" letter-spacing="0.45" fill="#97a5ba" >COOGEE</text>
<text x="1252" y="333" font-size="4.3" letter-spacing="0.45" fill="#97a5ba" >LAKE COOGEE</text>
<text x="1380" y="310" font-size="4.3" letter-spacing="0.45" fill="#97a5ba" >YANGEBUP</text>
<text x="1328" y="390" font-size="4.3" letter-spacing="0.45" fill="#97a5ba" >MUNSTER</text>
<text x="1392.5" y="378.5" font-size="4.3" letter-spacing="0.45" fill="#97a5ba" >BEELIAR</text>
<text x="1252.5" y="458" font-size="4.3" letter-spacing="0.45" fill="#97a5ba" >HENDERSON</text>
<text x="1372" y="475.5" font-size="4.3" letter-spacing="0.45" fill="#97a5ba" >WATTLEUP</text>
<text x="1237.5" y="331" font-size="3.5" letter-spacing="0.1" fill="#a3afc2" transform="rotate(90 1237.5 331)" >Cockburn Road</text>
<text x="1304.5" y="415" font-size="3.5" letter-spacing="0.1" fill="#a3afc2" transform="rotate(84 1304.5 415)" >Rockingham Road</text>
<text x="1300" y="305" font-size="3.5" letter-spacing="0.1" fill="#a3afc2" transform="rotate(-62 1300 305)" >Stock Road</text>
<text x="1266" y="577" font-size="4.3" letter-spacing="0.45" fill="#97a5ba" >NAVAL BASE</text>
<text x="1355" y="588" font-size="4.3" letter-spacing="0.45" fill="#97a5ba" >HOPE VALLEY</text>
<text x="1253.8" y="686.5" font-size="4.3" letter-spacing="0.45" fill="#97a5ba" >KWINANA</text>
<text x="1258" y="692.8" font-size="4.3" letter-spacing="0.45" fill="#97a5ba" >BEACH</text>
<text x="1348.8" y="715" font-size="4.3" letter-spacing="0.45" fill="#97a5ba" >MEDINA</text>
<text x="1296" y="645" font-size="3.5" letter-spacing="0.1" fill="#a3afc2" transform="rotate(88 1296 645)" >Rockingham Road</text>
<text x="1283" y="552" font-size="3.5" letter-spacing="0.1" fill="#a3afc2" transform="rotate(-52 1283 552)" >Rockingham Road</text>
<text x="1382" y="689" font-size="3.5" letter-spacing="0.1" fill="#a3afc2" transform="rotate(12 1382 689)" >Thomas Road</text>
<text x="1255" y="798.8" font-size="4.3" letter-spacing="0.45" fill="#97a5ba" >EAST</text>
<text x="1243" y="805.5" font-size="4.3" letter-spacing="0.45" fill="#97a5ba" >ROCKINGHAM</text>
<text x="1341" y="825.8" font-size="4.3" letter-spacing="0.45" fill="#97a5ba" >LEDA</text>
<text x="1232" y="889" font-size="4.3" letter-spacing="0.45" fill="#97a5ba" >HILLMAN</text>
<text x="1145" y="904.5" font-size="6.4" letter-spacing="0.5" fill="#8fa0ba" >Rockingham</text>
<text x="1037.5" y="878.8" font-size="4.1" letter-spacing="0.4" fill="#97a5ba" >PERON</text>
<text x="1260" y="762" font-size="3.5" letter-spacing="0.1" fill="#a3afc2" transform="rotate(-58 1260 762)" >Patterson Road</text>
<text x="1219" y="820" font-size="3.5" letter-spacing="0.1" fill="#a3afc2" transform="rotate(-52 1219 820)" >Patterson Road</text>
<text x="1213" y="850" font-size="3.5" letter-spacing="0.1" fill="#a3afc2" transform="rotate(78 1213 850)" >Ennis Avenue</text>
<text x="1270.5" y="775" font-size="3.4" letter-spacing="0.1" fill="#a3afc2" transform="rotate(-85 1270.5 775)" >Dixon Road</text>
<path d="M1178.5,34 L1173.9,39.4 L1166,47.5 L1158.2,55 L1152,61.5 L1147,66.2 L1143.1,68.4 L1143.7,72.9 L1147.5,74.2 L1151.5,75.1 L1153,78 L1153.7,80.7 L1157,81.8 L1161,82.6 L1164.9,84 L1168.5,86.5 L1171.6,89.6 L1174,94 L1175.5,98.6 L1175.3,102 L1173.9,104.2 L1171,104.3 L1168.3,104 L1164,104.8 L1160.4,105.3 L1158.2,106.4 L1161.5,111.5 L1164.9,116.4 L1170.5,120.5 L1176.1,124.3 L1182.8,126.5 L1182.5,136 L1183,148.5 L1183.8,161 L1185,173.5 L1190,182.3 L1195,191 L1200,201 L1205,211 L1208.8,218.5 L1212.5,226 L1215,236 L1217.5,248.5 L1218.8,261 L1220,271 L1221.3,285 L1219.5,295 L1216.5,305 L1213.3,312 L1210.4,321.8 L1204.5,333.5 L1193.7,341.4 L1181,346.3 L1172.2,349.2 L1164,354 L1158,360 L1160,363.5 L1170,363.8 L1185,363 L1200,362.8 L1211.4,363.4 L1216.3,365.9 L1222.2,368.8 L1230,374.7 L1231,380 L1232,386.5 L1233.9,398.2 L1234.5,410 L1233.8,420 L1233.3,432 L1232.5,442.5 L1228,447 L1223.8,450 L1223.8,460 L1230,461.5 L1237.5,462.5 L1238.3,467 L1238.8,472.5 L1243,473.2 L1247.5,473.8 L1248.8,483 L1250,492.5 L1252.5,501 L1255,510 L1258.5,521 L1261.3,528 L1262.3,540 L1262.5,550 L1261,563 L1258.8,575 L1256,585 L1252.5,595 L1247.5,606 L1242.5,617.5 L1236.5,627.5 L1230,637.5 L1222.5,647.5 L1215,657.5 L1210.5,666 L1206.3,675 L1204.2,680 L1203.8,685 L1206.5,692 L1210,700 L1211.5,709 L1212.5,717.5 L1215,721.5 L1217.5,725 L1217,735 L1216.3,745 L1213.5,755 L1210,765 L1207.5,767.5 L1201,778 L1195,787.5 L1186,799 L1177.5,810 L1167,821.5 L1157.5,832.5 L1148.5,841.5 L1140,850 L1132.5,856.5 L1125,862.5 L1116,866.5 L1107.5,868.8 L1098,869.5 L1090,868.8 L1082,866.5 L1075,863.8 L1067.5,865.5 L1060,865 L1050,863.8 L1042,861 L1035,857.5 L1030.5,852.5 L1026.3,847.5 L1018,845 L1010,842.5 L1003.5,837 L997.5,832.5 L993,831 L988.8,831.3 L987.6,834.5 L988.2,838.5 L990,843.5 L992.5,847.5 L998.5,850.5 L1005,852.5 L1012.5,857 L1020,862.5 L1024,867.5 L1027,872.5 L1032.5,882.5 L1037,892.5 L1040,902.5 L1042,912.5 L1042,925 L1041,942" fill="none" stroke="#d75f62" stroke-opacity=".33" stroke-width="2.7" stroke-linejoin="round" stroke-linecap="round"/>
<path d="M1128,34 L1158.5,34 L1151.5,48.3 L1145.9,53.9 L1138.1,58.9 L1130.3,61.1 L1122.5,61.3 L1124.1,55 L1126.9,47.2 L1129.2,42.7" fill="none" stroke="#d75f62" stroke-opacity=".33" stroke-width="2.7" stroke-linejoin="round" stroke-linecap="round"/>
<path d="M912,441.5 C911.3,442 910.1,443.4 910,445 C909.9,446.6 910.4,455 910.5,458 C910.6,461 911.3,472.1 911.3,475 C911.2,477.9 910.2,484.8 910,487 C909.8,489.2 908.6,495.3 908.8,497.5 C909,499.7 911.2,506.8 912,509 C912.8,511.2 915.5,517.9 916.3,520 C917.1,522.1 919.2,528 920,530 C920.8,532 923.2,538.2 923.8,540 C924.3,541.8 925.1,546.5 925.5,548 C925.9,549.5 926.9,553.3 927.5,555 C928.1,556.7 931,563 932,565 C933,567 936.8,572.7 937.5,575 C938.2,577.3 939.2,585.5 939.5,588 C939.8,590.5 940,597.6 940,600 C940,602.4 940,609.5 940,612 C940,614.5 939.9,622.9 940,625 C940.1,627.1 941.1,631.5 941.5,633 C941.9,634.5 943.2,638.3 943.8,640 C944.4,641.7 946.6,647.5 947.5,650 C948.4,652.5 951.5,662 952.5,665 C953.5,668 956.8,677 958,680 C959.2,683 964,692.2 965,695 C966,697.8 967.1,705.5 967.5,708 C967.9,710.5 968.5,717.5 968.8,720 C969.1,722.5 970.1,730.5 970.5,733 C970.9,735.5 972,743.2 972.5,745 C973,746.8 974.8,749.6 975.5,750.5 C976.2,751.4 978.5,753.2 980,753.8 C981.5,754.3 988,755.6 990,756 C992,756.4 998.7,757.8 1000,757.5 C1001.3,757.2 1002.4,754 1003,753 C1003.6,752 1005.4,748.2 1006.3,747.5 C1007.2,746.8 1010.6,746.1 1012,746 C1013.4,745.9 1018.2,746.2 1020,746.5 C1021.8,746.8 1030,748.9 1030,748.8 C1030,748.7 1022,746.1 1020,745.5 C1018,744.9 1011.5,743.2 1010,742.5 C1008.5,741.8 1006,739 1005,738 C1004,737 1001,733.8 1000,732.5 C999,731.2 996.2,726.5 995.5,725 C994.8,723.5 992.8,719 992.5,717.5 C992.2,716 992.2,711.5 992.3,710 C992.4,708.5 993.2,703.8 993.8,702.5 C994.4,701.2 997.4,698 998.5,697 C999.6,696 1003.5,693.1 1005,692.5 C1006.5,691.9 1012.2,690.8 1014,690.5 C1015.8,690.2 1021.5,689.5 1023,689.5 C1024.5,689.5 1028.8,690.5 1029,690 C1029.2,689.5 1025.5,685.2 1025,684 C1024.5,682.8 1024.3,679 1023.8,677.5 C1023.3,676 1020.9,670.5 1020,669 C1019.1,667.5 1016.3,664 1015,662.5 C1013.7,661 1008.8,655.8 1007,654 C1005.2,652.2 999,646.4 997.5,645 C996,643.6 993.5,641.7 992.5,640 C991.5,638.3 989,630.5 988,628 C987,625.5 983.2,617.8 982.5,615 C981.8,612.2 981,603 980.5,600 C980,597 978.3,587.5 977.5,585 C976.7,582.5 973.5,577 972.5,575 C971.5,573 968.5,567.2 967.5,565 C966.5,562.8 963.5,555.2 962.5,553 C961.5,550.8 958.4,544.7 957.5,542.5 C956.6,540.3 954.5,533.2 954,531 C953.5,528.8 952.4,522.3 952.5,520 C952.6,517.7 954.4,510.5 955,508 C955.6,505.5 958.5,497.3 958.8,495 C959.1,492.7 958.4,487 958,485 C957.6,483 955.9,476.9 955,475 C954.1,473.1 950.2,467.8 949,466 C947.8,464.2 943.7,459.2 942.5,457.5 C941.3,455.8 938,450.6 937,449 C936,447.4 933.7,442.2 932.5,441.3 C931.3,440.4 926.5,439.6 925,439.5 C923.5,439.4 918.3,439.6 917,439.8 C915.7,440 912.7,441 912,441.5Z" fill="none" stroke="#d75f62" stroke-opacity=".33" stroke-width="2.7" stroke-linejoin="round" stroke-linecap="round"/>
<path d="M1120.5,36 C1120,37 1117.9,41.6 1117,43.5 C1116.1,45.4 1114.4,48.6 1113.5,50.5 C1112.6,52.4 1111.2,55.9 1110.5,57.5 C1109.8,59.1 1109.2,62 1108.3,62.8 C1107.4,63.6 1105.2,63.6 1104,63.8 C1102.8,64 1099.9,64.5 1099.3,64.6" fill="none" stroke="#e3acaa" stroke-opacity=".9" stroke-width="3.2" stroke-linecap="round" stroke-linejoin="round"/>
<path d="M1120.5,36 C1120,37 1117.9,41.6 1117,43.5 C1116.1,45.4 1114.4,48.6 1113.5,50.5 C1112.6,52.4 1111.2,55.9 1110.5,57.5 C1109.8,59.1 1109.2,62 1108.3,62.8 C1107.4,63.6 1105.2,63.6 1104,63.8 C1102.8,64 1099.9,64.5 1099.3,64.6" fill="none" stroke="#efd6d1" stroke-width="1.0" stroke-linecap="round" stroke-linejoin="round"/>
<path d="M1113.8,62.9 C1114.4,62.8 1116.9,62.2 1118,62 C1119.1,61.8 1121.5,61.3 1122,61.2" fill="none" stroke="#e3acaa" stroke-opacity=".9" stroke-width="3.2" stroke-linecap="round" stroke-linejoin="round"/>
<path d="M1113.8,62.9 C1114.4,62.8 1116.9,62.2 1118,62 C1119.1,61.8 1121.5,61.3 1122,61.2" fill="none" stroke="#efd6d1" stroke-width="1.0" stroke-linecap="round" stroke-linejoin="round"/>
<path d="M1154,82.5 C1153.2,82.9 1149.5,84.2 1148,85.5 C1146.5,86.8 1143.3,90.3 1143,92 C1142.7,93.7 1144.5,97.8 1145.5,98.5 C1146.5,99.2 1149.3,98.3 1150.5,97 C1151.7,95.7 1153.8,90.9 1154.5,89 C1155.2,87.1 1155.4,83.4 1155.5,82.5" fill="none" stroke="#e3acaa" stroke-opacity=".9" stroke-width="3" stroke-linecap="round" stroke-linejoin="round"/>
<path d="M1154,82.5 C1153.2,82.9 1149.5,84.2 1148,85.5 C1146.5,86.8 1143.3,90.3 1143,92 C1142.7,93.7 1144.5,97.8 1145.5,98.5 C1146.5,99.2 1149.3,98.3 1150.5,97 C1151.7,95.7 1153.8,90.9 1154.5,89 C1155.2,87.1 1155.4,83.4 1155.5,82.5" fill="none" stroke="#efd6d1" stroke-width="0.7999999999999998" stroke-linecap="round" stroke-linejoin="round"/>
<path d="M1157.3,93.5 C1157.5,94 1158.4,96.2 1159,97 C1159.6,97.8 1160.8,99.1 1161.6,99.7 C1162.4,100.3 1164.1,101.4 1165,101.8 C1165.9,102.2 1167.9,102.8 1168.3,103" fill="none" stroke="#e3acaa" stroke-opacity=".9" stroke-width="3" stroke-linecap="round" stroke-linejoin="round"/>
<path d="M1157.3,93.5 C1157.5,94 1158.4,96.2 1159,97 C1159.6,97.8 1160.8,99.1 1161.6,99.7 C1162.4,100.3 1164.1,101.4 1165,101.8 C1165.9,102.2 1167.9,102.8 1168.3,103" fill="none" stroke="#efd6d1" stroke-width="0.7999999999999998" stroke-linecap="round" stroke-linejoin="round"/>
<path d="M1217.5,371 C1217.1,372.2 1215.3,377.5 1214.5,380 C1213.7,382.5 1211.6,388.1 1211.3,390 C1211,391.9 1212.3,393.5 1212.5,394" fill="none" stroke="#e3acaa" stroke-opacity=".9" stroke-width="3.7" stroke-linecap="round" stroke-linejoin="round"/>
<path d="M1217.5,371 C1217.1,372.2 1215.3,377.5 1214.5,380 C1213.7,382.5 1211.6,388.1 1211.3,390 C1211,391.9 1212.3,393.5 1212.5,394" fill="none" stroke="#efd6d1" stroke-width="1.5" stroke-linecap="round" stroke-linejoin="round"/>
<path d="M1217.5,402.5 C1217.6,403.4 1218,407.3 1218.3,409 C1218.6,410.7 1219.1,413.7 1220,415 C1220.9,416.3 1223.5,418.2 1225,419 C1226.5,419.8 1230.5,421 1231.3,421.3" fill="none" stroke="#e3acaa" stroke-opacity=".9" stroke-width="3.7" stroke-linecap="round" stroke-linejoin="round"/>
<path d="M1217.5,402.5 C1217.6,403.4 1218,407.3 1218.3,409 C1218.6,410.7 1219.1,413.7 1220,415 C1220.9,416.3 1223.5,418.2 1225,419 C1226.5,419.8 1230.5,421 1231.3,421.3" fill="none" stroke="#efd6d1" stroke-width="1.5" stroke-linecap="round" stroke-linejoin="round"/>
<path d="M1216.3,416.3 C1215.7,417.5 1213,422.7 1212,425 C1211,427.3 1209.1,431.5 1208.8,433.8 C1208.5,436.1 1209.5,439.8 1210,442 C1210.5,444.2 1211.5,448.3 1212.5,450 C1213.5,451.7 1216.8,454.3 1217.5,455" fill="none" stroke="#e3acaa" stroke-opacity=".9" stroke-width="3.7" stroke-linecap="round" stroke-linejoin="round"/>
<path d="M1216.3,416.3 C1215.7,417.5 1213,422.7 1212,425 C1211,427.3 1209.1,431.5 1208.8,433.8 C1208.5,436.1 1209.5,439.8 1210,442 C1210.5,444.2 1211.5,448.3 1212.5,450 C1213.5,451.7 1216.8,454.3 1217.5,455" fill="none" stroke="#efd6d1" stroke-width="1.5" stroke-linecap="round" stroke-linejoin="round"/>
<path d="M1041.3,768.8 C1041.9,769.5 1044.7,772.5 1045.5,774 C1046.3,775.5 1047.3,778.1 1047.5,780 C1047.7,781.9 1047.1,786 1046.8,788 C1046.5,790 1045.6,793 1045,795 C1044.4,797 1043.2,801 1042.5,803 C1041.8,805 1040.3,809.1 1040,810" fill="none" stroke="#e3acaa" stroke-opacity=".9" stroke-width="4.4" stroke-linecap="round" stroke-linejoin="round"/>
<path d="M1041.3,768.8 C1041.9,769.5 1044.7,772.5 1045.5,774 C1046.3,775.5 1047.3,778.1 1047.5,780 C1047.7,781.9 1047.1,786 1046.8,788 C1046.5,790 1045.6,793 1045,795 C1044.4,797 1043.2,801 1042.5,803 C1041.8,805 1040.3,809.1 1040,810" fill="none" stroke="#efd6d1" stroke-width="2.2" stroke-linecap="round" stroke-linejoin="round"/>
<path d="M1037.5,815 C1037.2,816.2 1036.1,821.7 1035.6,824 C1035.1,826.3 1034,831.4 1033.8,832.5" fill="none" stroke="#e3acaa" stroke-opacity=".9" stroke-width="4.4" stroke-linecap="round" stroke-linejoin="round"/>
<path d="M1037.5,815 C1037.2,816.2 1036.1,821.7 1035.6,824 C1035.1,826.3 1034,831.4 1033.8,832.5" fill="none" stroke="#efd6d1" stroke-width="2.2" stroke-linecap="round" stroke-linejoin="round"/>
<path d="M1031,840 L1029.3,850" fill="none" stroke="#e3acaa" stroke-opacity=".9" stroke-width="3.6" stroke-linecap="round" stroke-linejoin="round"/>
<path d="M1031,840 L1029.3,850" fill="none" stroke="#efd6d1" stroke-width="1.4" stroke-linecap="round" stroke-linejoin="round"/>
<path d="M1030,748.8 L1041.3,768.8 M1033.5,833 L1030,852" fill="none" stroke="#f4f1e2" stroke-width="1"/>
<circle class="pt" cx="1216.5" cy="272.3" r="5.05"/><circle class="pt" cx="959" cy="308.5" r="5.05"/><circle class="pt" cx="1144.3" cy="334.3" r="5.05"/><circle class="pt" cx="1086.3" cy="365.8" r="5.05"/><circle class="pt" cx="941.8" cy="443.8" r="5.05"/><circle class="pt" cx="941.3" cy="448.8" r="5.05"/><circle class="pt" cx="945.5" cy="449.5" r="5.05"/><circle class="pt" cx="971.3" cy="446.3" r="5.05"/><circle class="pt" cx="966.3" cy="450.8" r="5.05"/><circle class="pt" cx="953.8" cy="474.3" r="5.05"/><circle class="pt" cx="1245.5" cy="491.3" r="5.05"/><circle class="pt" cx="1165" cy="563" r="5.05"/><circle class="pt" cx="992" cy="605" r="5.05"/><circle class="pt" cx="997.5" cy="641.8" r="5.05"/><circle class="pt" cx="1054.1" cy="743.3" r="5.05"/><circle class="pt" cx="1034.3" cy="812.5" r="5.05"/><circle class="pt" cx="1076.3" cy="855.3" r="5.05"/><circle class="pt" cx="1018.6" cy="873.7" r="5.05"/><circle class="pt" cx="1023.4" cy="921" r="5.05"/>
<text class="lab" x="1222.4" y="267.8" textLength="43.3" lengthAdjust="spacingAndGlyphs">Coogee</text>
<text class="lab" x="964.6" y="303.8" textLength="76" lengthAdjust="spacingAndGlyphs">Carnac Island</text>
<text class="lab" x="1149.9" y="329.9" textLength="89.1" lengthAdjust="spacingAndGlyphs">Woodman Point</text>
<text class="lab" x="1091.9" y="360.9" textLength="176.6" lengthAdjust="spacingAndGlyphs">Woodman Point Depth Transect</text>
<text class="lab" x="826.9" y="439.2" textLength="108.8" lengthAdjust="spacingAndGlyphs">Garden Island 2.0m</text>
<text class="lab" x="976.9" y="441.2" textLength="206.6" lengthAdjust="spacingAndGlyphs">Garden Island Depth Transect - North</text>
<text class="lab" x="830.7" y="465.9" textLength="109" lengthAdjust="spacingAndGlyphs">Garden Island 3.2m</text>
<text class="lab" x="976.9" y="462.9" textLength="108.3" lengthAdjust="spacingAndGlyphs">Garden Island 7.0m</text>
<text class="lab" x="959.4" y="490.9" textLength="82.1" lengthAdjust="spacingAndGlyphs">Luscombe Bay</text>
<text class="lab" x="1251.4" y="486.8" textLength="70.8" lengthAdjust="spacingAndGlyphs">Jervoise Bay</text>
<text class="lab" x="1170.7" y="558" textLength="47.8" lengthAdjust="spacingAndGlyphs">Kwinana</text>
<text class="lab" x="998.2" y="600" textLength="208.8" lengthAdjust="spacingAndGlyphs">Garden Island Depth Transect - South</text>
<text class="lab" x="1003.2" y="636.9" textLength="141.5" lengthAdjust="spacingAndGlyphs">Garden Island Settlement</text>
<text class="lab" x="1059.7" y="739" textLength="80.5" lengthAdjust="spacingAndGlyphs">Southern Flats</text>
<text class="lab" x="1040.2" y="808" textLength="58.2" lengthAdjust="spacingAndGlyphs">Causeway</text>
<text class="lab" x="1081.9" y="850.5" textLength="72.1" lengthAdjust="spacingAndGlyphs">Mangles Bay</text>
<text class="lab" x="953.7" y="869.2" textLength="59" lengthAdjust="spacingAndGlyphs">Bird Island</text>
<text class="lab" x="1029" y="915.8" textLength="61.2" lengthAdjust="spacingAndGlyphs">Seal Island</text>
<path d="M747.5,912.5 V922.5 H943.8 V912.5 M812.9,912.5 V922.5 M878.3,912.5 V922.5" fill="none" stroke="#000" stroke-width="1.25"/><text x="747.5" y="907.7" font-size="10.8" text-anchor="middle" fill="#000">0</text><text x="812.9" y="907.7" font-size="10.8" text-anchor="middle" fill="#000">2</text><text x="878.3" y="907.7" font-size="10.8" text-anchor="middle" fill="#000">4</text><text x="940.8" y="907.7" font-size="10.8" fill="#000" xml:space="preserve" word-spacing=".7">6 km</text>
</g>
<rect x="42.8" y="38.2" width="671.4" height="898.6" fill="none" stroke="#000" stroke-width="1.7"/>
<rect x="721.85" y="38.2" width="679.3" height="898.6" fill="none" stroke="#000" stroke-width="1.7"/>
<rect x="19.9" y="20" width="1402.2" height="979.2" fill="none" stroke="#333" stroke-width="1.5"/>
<g>
<rect x="42.8" y="38.2" width="172.1" height="167.6" fill="#fff" stroke="#000" stroke-width="1.7"/>
<text class="dj" x="52.6" y="60.8" font-size="12.1" fill="#000">Data type</text>
<rect x="54.2" y="73.6" width="29.6" height="14.4" fill="#33a02c" stroke="#7a7a7a" stroke-width=".5"/>
<text x="91.5" y="86.9" font-size="10.2" fill="#000" textLength="88.5" lengthAdjust="spacingAndGlyphs">Seagrass &amp; Macroalgae</text>
<text class="dj" x="52.6" y="115.4" font-size="12.1" fill="#000">Agency</text>
<circle cx="69" cy="133.3" r="5.4" fill="#fff" stroke="#333" stroke-width=".45"/>
<text x="91.5" y="136.8" font-size="10.2" fill="#000" textLength="45.4" lengthAdjust="spacingAndGlyphs">WWMSP2.2</text>
<text class="dj" x="52.6" y="160.2" font-size="12.1" fill="#000">Bed elevation (mAHD)</text>
<rect x="51.9" y="168.3" width="33.8" height="27.6" fill="url(#vir)"/>
<text x="91.8" y="177.6" font-size="10.2" fill="#000" textLength="4.6" lengthAdjust="spacingAndGlyphs">1</text>
<text x="91.2" y="193" font-size="10.2" fill="#000" textLength="12.4" lengthAdjust="spacingAndGlyphs">-30</text>
</g>
<text x="212.5" y="970.8" font-size="13.7" fill="#000">CSIEM data catalogue (Benthic)</text>
<text x="212.5" y="986.4" font-size="13.7" fill="#000">Sherry Zhai - October 2023</text>
<g><circle cx="70.3" cy="970.4" r="1.1" fill="#3286b9"/><circle cx="69.1" cy="973.7" r="1.1" fill="#338abb"/><circle cx="66.0" cy="975.5" r="1.1" fill="#3287b9"/><circle cx="62.5" cy="974.9" r="1.1" fill="#2f7fb2"/><circle cx="60.2" cy="972.2" r="1.1" fill="#2c77ab"/><circle cx="60.2" cy="968.6" r="1.1" fill="#2a71a5"/><circle cx="62.5" cy="965.9" r="1.1" fill="#2a71a5"/><circle cx="66.0" cy="965.3" r="1.1" fill="#2c77aa"/><circle cx="69.1" cy="967.1" r="1.1" fill="#2f7fb2"/><circle cx="73.3" cy="972.0" r="1.1" fill="#358ec0"/><circle cx="71.9" cy="975.1" r="1.1" fill="#3691c2"/><circle cx="69.4" cy="977.5" r="1.1" fill="#3690c1"/><circle cx="66.1" cy="978.6" r="1.1" fill="#348cbd"/><circle cx="62.7" cy="978.3" r="1.1" fill="#3285b7"/><circle cx="59.7" cy="976.7" r="1.1" fill="#2f7db0"/><circle cx="57.6" cy="973.9" r="1.1" fill="#2b75a9"/><circle cx="56.8" cy="970.6" r="1.1" fill="#296ea3"/><circle cx="57.5" cy="967.2" r="1.1" fill="#276a9f"/><circle cx="59.4" cy="964.3" r="1.1" fill="#27699e"/><circle cx="62.4" cy="962.6" r="1.1" fill="#286ca0"/><circle cx="65.8" cy="962.1" r="1.1" fill="#2a71a5"/><circle cx="69.1" cy="963.1" r="1.1" fill="#2d79ac"/><circle cx="71.7" cy="965.4" r="1.1" fill="#3081b4"/><circle cx="73.2" cy="968.5" r="1.1" fill="#3389bb"/><circle cx="75.7" cy="974.6" r="1.22" fill="#3897c7"/><circle cx="74.0" cy="977.6" r="1.22" fill="#3998c9"/><circle cx="71.5" cy="979.9" r="1.22" fill="#3998c8"/><circle cx="68.4" cy="981.3" r="1.22" fill="#3794c5"/><circle cx="65.0" cy="981.8" r="1.22" fill="#358fc0"/><circle cx="61.7" cy="981.3" r="1.22" fill="#3388ba"/><circle cx="58.6" cy="979.8" r="1.22" fill="#3080b3"/><circle cx="56.1" cy="977.5" r="1.22" fill="#2d78ab"/><circle cx="54.5" cy="974.5" r="1.22" fill="#2a70a4"/><circle cx="53.7" cy="971.2" r="1.22" fill="#276a9e"/><circle cx="54.0" cy="967.8" r="1.22" fill="#25659a"/><circle cx="55.3" cy="964.6" r="1.22" fill="#246298"/><circle cx="57.4" cy="962.0" r="1.22" fill="#246297"/><circle cx="60.2" cy="960.1" r="1.22" fill="#256499"/><circle cx="63.5" cy="959.1" r="1.22" fill="#27689d"/><circle cx="66.9" cy="959.1" r="1.22" fill="#296ea3"/><circle cx="70.1" cy="960.2" r="1.22" fill="#2c76aa"/><circle cx="72.9" cy="962.1" r="1.22" fill="#2f7eb1"/><circle cx="75.0" cy="964.8" r="1.22" fill="#3286b8"/><circle cx="76.2" cy="967.9" r="1.22" fill="#358dbf"/><circle cx="76.5" cy="971.3" r="1.22" fill="#3793c4"/><circle cx="77.3" cy="978.2" r="1.22" fill="#3ca0cf"/><circle cx="75.2" cy="980.8" r="1.22" fill="#3ca0cf"/><circle cx="72.5" cy="982.9" r="1.22" fill="#3b9ece"/><circle cx="69.4" cy="984.2" r="1.22" fill="#3a9bcb"/><circle cx="66.1" cy="984.9" r="1.22" fill="#3896c6"/><circle cx="62.8" cy="984.7" r="1.22" fill="#358fc1"/><circle cx="59.5" cy="983.8" r="1.22" fill="#3388ba"/><circle cx="56.6" cy="982.1" r="1.22" fill="#3080b3"/><circle cx="54.1" cy="979.9" r="1.22" fill="#2d78ab"/><circle cx="52.2" cy="977.1" r="1.22" fill="#2a70a4"/><circle cx="51.0" cy="973.9" r="1.22" fill="#27699e"/><circle cx="50.6" cy="970.6" r="1.22" fill="#256398"/><circle cx="51.0" cy="967.2" r="1.22" fill="#235e94"/><circle cx="52.1" cy="964.0" r="1.22" fill="#225b92"/><circle cx="53.9" cy="961.2" r="1.22" fill="#215a90"/><circle cx="56.3" cy="958.9" r="1.22" fill="#215b91"/><circle cx="59.2" cy="957.2" r="1.22" fill="#225d93"/><circle cx="62.4" cy="956.2" r="1.22" fill="#246297"/><circle cx="65.8" cy="955.9" r="1.22" fill="#26679c"/><circle cx="69.1" cy="956.5" r="1.22" fill="#296ea3"/><circle cx="72.2" cy="957.8" r="1.22" fill="#2c76aa"/><circle cx="74.9" cy="959.7" r="1.22" fill="#2f7eb1"/><circle cx="77.1" cy="962.3" r="1.22" fill="#3286b8"/><circle cx="78.7" cy="965.3" r="1.22" fill="#358ebf"/><circle cx="79.5" cy="968.5" r="1.22" fill="#3794c5"/><circle cx="79.5" cy="971.9" r="1.22" fill="#399aca"/><circle cx="78.8" cy="975.2" r="1.22" fill="#3b9dcd"/><circle cx="77.9" cy="982.5" r="1.22" fill="#3fa7d6"/><circle cx="75.3" cy="984.7" r="1.22" fill="#3ea6d5"/><circle cx="72.4" cy="986.4" r="1.22" fill="#3da4d3"/><circle cx="69.3" cy="987.5" r="1.22" fill="#3ca0cf"/><circle cx="66.0" cy="988.0" r="1.22" fill="#3a9aca"/><circle cx="62.6" cy="987.8" r="1.22" fill="#3794c5"/><circle cx="59.4" cy="987.0" r="1.22" fill="#358dbe"/><circle cx="56.3" cy="985.7" r="1.22" fill="#3285b7"/><circle cx="53.6" cy="983.7" r="1.22" fill="#2f7db0"/><circle cx="51.3" cy="981.3" r="1.22" fill="#2b75a9"/><circle cx="49.5" cy="978.5" r="1.22" fill="#286da2"/><circle cx="48.2" cy="975.4" r="1.22" fill="#26669b"/><circle cx="47.6" cy="972.1" r="1.22" fill="#236096"/><circle cx="47.6" cy="968.8" r="1.22" fill="#215a91"/><circle cx="48.2" cy="965.5" r="1.22" fill="#20568d"/><circle cx="49.4" cy="962.4" r="1.22" fill="#1f548b"/><circle cx="51.2" cy="959.5" r="1.22" fill="#1e538a"/><circle cx="53.6" cy="957.1" r="1.22" fill="#1e538a"/><circle cx="56.3" cy="955.2" r="1.22" fill="#1f558c"/><circle cx="59.3" cy="953.8" r="1.22" fill="#20588f"/><circle cx="62.6" cy="953.0" r="1.22" fill="#225d93"/><circle cx="65.9" cy="952.8" r="1.22" fill="#246398"/><circle cx="69.2" cy="953.3" r="1.22" fill="#27699e"/><circle cx="72.4" cy="954.4" r="1.22" fill="#2a71a5"/><circle cx="75.3" cy="956.0" r="1.22" fill="#2d79ac"/><circle cx="77.8" cy="958.2" r="1.22" fill="#3081b4"/><circle cx="79.9" cy="960.9" r="1.22" fill="#3389bb"/><circle cx="81.4" cy="963.8" r="1.22" fill="#3690c1"/><circle cx="82.4" cy="967.0" r="1.22" fill="#3997c8"/><circle cx="82.7" cy="970.4" r="1.22" fill="#3b9dcd"/><circle cx="82.4" cy="973.7" r="1.22" fill="#3da2d1"/><circle cx="81.4" cy="976.9" r="1.22" fill="#3ea5d4"/><circle cx="79.9" cy="979.9" r="1.22" fill="#3fa7d6"/><circle cx="77.1" cy="987.2" r="1.22" fill="#41aedc"/><circle cx="74.3" cy="989.0" r="1.22" fill="#40abda"/><circle cx="71.2" cy="990.2" r="1.22" fill="#3fa7d6"/><circle cx="67.9" cy="990.9" r="1.22" fill="#3da3d2"/><circle cx="64.6" cy="991.1" r="1.22" fill="#3b9dcd"/><circle cx="61.3" cy="990.7" r="1.22" fill="#3896c7"/><circle cx="58.1" cy="989.9" r="1.22" fill="#358fc0"/><circle cx="55.0" cy="988.5" r="1.22" fill="#3287b9"/><circle cx="52.3" cy="986.6" r="1.22" fill="#2f7fb2"/><circle cx="49.8" cy="984.4" r="1.22" fill="#2c77ab"/><circle cx="47.8" cy="981.8" r="1.22" fill="#296fa4"/><circle cx="46.2" cy="978.8" r="1.22" fill="#26689d"/><circle cx="45.1" cy="975.7" r="1.22" fill="#246197"/><circle cx="44.5" cy="972.4" r="1.22" fill="#215b91"/><circle cx="44.4" cy="969.1" r="1.22" fill="#1f558c"/><circle cx="44.9" cy="965.8" r="1.22" fill="#1e5188"/><circle cx="45.9" cy="962.6" r="1.22" fill="#1c4e85"/><circle cx="47.4" cy="959.6" r="1.22" fill="#1c4c84"/><circle cx="49.4" cy="956.9" r="1.22" fill="#1b4b83"/><circle cx="51.7" cy="954.6" r="1.22" fill="#1c4c84"/><circle cx="54.5" cy="952.6" r="1.22" fill="#1c4e85"/><circle cx="57.4" cy="951.2" r="1.22" fill="#1e5188"/><circle cx="60.6" cy="950.2" r="1.22" fill="#1f558c"/><circle cx="63.9" cy="949.7" r="1.22" fill="#215a91"/><circle cx="67.3" cy="949.8" r="1.22" fill="#246096"/><circle cx="70.5" cy="950.4" r="1.22" fill="#26679c"/><circle cx="73.7" cy="951.6" r="1.22" fill="#296fa3"/><circle cx="76.6" cy="953.2" r="1.22" fill="#2c77aa"/><circle cx="79.2" cy="955.2" r="1.22" fill="#2f7fb2"/><circle cx="81.4" cy="957.7" r="1.22" fill="#3287b9"/><circle cx="83.3" cy="960.5" r="1.22" fill="#358ec0"/><circle cx="84.6" cy="963.5" r="1.22" fill="#3896c6"/><circle cx="85.5" cy="966.7" r="1.22" fill="#3a9ccc"/><circle cx="85.8" cy="970.1" r="1.22" fill="#3da2d2"/><circle cx="85.6" cy="973.4" r="1.22" fill="#3fa7d6"/><circle cx="84.8" cy="976.6" r="1.22" fill="#40abd9"/><circle cx="83.6" cy="979.7" r="1.22" fill="#41addc"/><circle cx="81.9" cy="982.6" r="1.22" fill="#42afdd"/><circle cx="79.7" cy="985.1" r="1.22" fill="#42afdd"/></g>
<path d="M64.8,945.6 Q67.2,959.4 69.2,965.8 Q75.8,965.5 89.6,963.0 Q77.2,969.6 71.8,973.5 Q74.2,979.8 80.9,992.2 Q70.8,982.4 65.4,978.4 Q60.1,982.8 50.4,993.2 Q56.6,980.3 58.7,973.8 Q53.1,970.2 40.6,964.2 Q54.4,966.0 61.0,966.0 Q62.9,959.5 64.8,945.6Z" fill="url(#star)" stroke="#fff" stroke-width=".7" stroke-linejoin="round"/>
<text x="96.6" y="964.1" font-size="8.5" fill="url(#wa)" textLength="94.6" lengthAdjust="spacingAndGlyphs" opacity=".95">WESTERN AUSTRALIAN</text>
<text x="96.4" y="975.8" font-size="11.7" font-weight="bold" fill="#1e4d83" textLength="91" lengthAdjust="spacingAndGlyphs">MARINE SCIENCE</text>
<text x="96.4" y="987.3" font-size="11.2" font-weight="bold" fill="#1e4d83" textLength="65.8" lengthAdjust="spacingAndGlyphs">INSTITUTION</text>
<g>
<clipPath id="aedTop"><path d="M1330,940 H1405 V971 C1392,978 1380,982.5 1366,982 C1352,981.5 1346,977 1336,976 L1330,976 Z"/></clipPath>
<path d="M1332.0,958.1 A21.0,21.0 0 1 0 1324.1,987.7" fill="none" stroke="#333" stroke-width="1.2" stroke-linecap="round"/>
<path d="M1321.4,949.5 A21.0,21.0 0 0 0 1302.2,986.4" fill="none" stroke="#333" stroke-width="2.3" stroke-linecap="round"/>
<path d="M1305.3,950.2 A21.0,21.0 0 0 0 1293.9,974.6" fill="none" stroke="#333" stroke-width="3.0" stroke-linecap="round"/>
<path d="M1297.2,965 C1302,964.6 1308,968 1311.6,971.6 C1306.5,974 1302,977 1301.2,980.4 C1306,983 1316,984.6 1327,984 C1327,986 1326,987.5 1325,988.2 C1318,990.6 1306,989 1299,981.5 C1296.6,977 1296.2,970 1297.2,965 Z" fill="#0a4b67"/>
<path d="M1311.2,973.4 C1315,968 1322,965 1329,964.6 C1331.6,964.5 1333.4,965 1334,966 L1334.2,976 C1330,977.6 1324,978 1318,977 C1315,976.2 1312.6,975 1311.2,973.4 Z" fill="#0a4b67"/>
<text x="1335.6" y="984.8" font-size="37" font-weight="bold" fill="#0a4b67" textLength="62" stroke="#0a4b67" stroke-width=".8" lengthAdjust="spacingAndGlyphs">AED</text>
<g clip-path="url(#aedTop)"><text x="1335.6" y="984.8" font-size="37" font-weight="bold" fill="#343434" textLength="62" stroke="#343434" stroke-width=".8" lengthAdjust="spacingAndGlyphs">AED</text></g>
<path d="M1333,976.2 C1340,976.4 1348,978.8 1356,981.4 C1366,984.4 1378,983 1388,978.6 C1393,976.2 1397.5,973.4 1401,970.6 C1399,975.6 1395,981 1388,984 C1378,987.4 1362,986.4 1350,985 C1343,984.3 1337,984.6 1332.6,985.2 Z" fill="#0a4b67"/>
<path d="M1333,976.2 C1340,976.4 1348,978.8 1356,981.4 C1366,984.4 1378,983 1388,978.6" fill="none" stroke="#fff" stroke-width=".7"/>
<text x="1328.6" y="990.2" font-size="5.4" font-weight="bold" fill="#0d5777" textLength="70.6" lengthAdjust="spacing">Aquatic Eco Dynamics</text>
</g>
</svg>
</body></html>
